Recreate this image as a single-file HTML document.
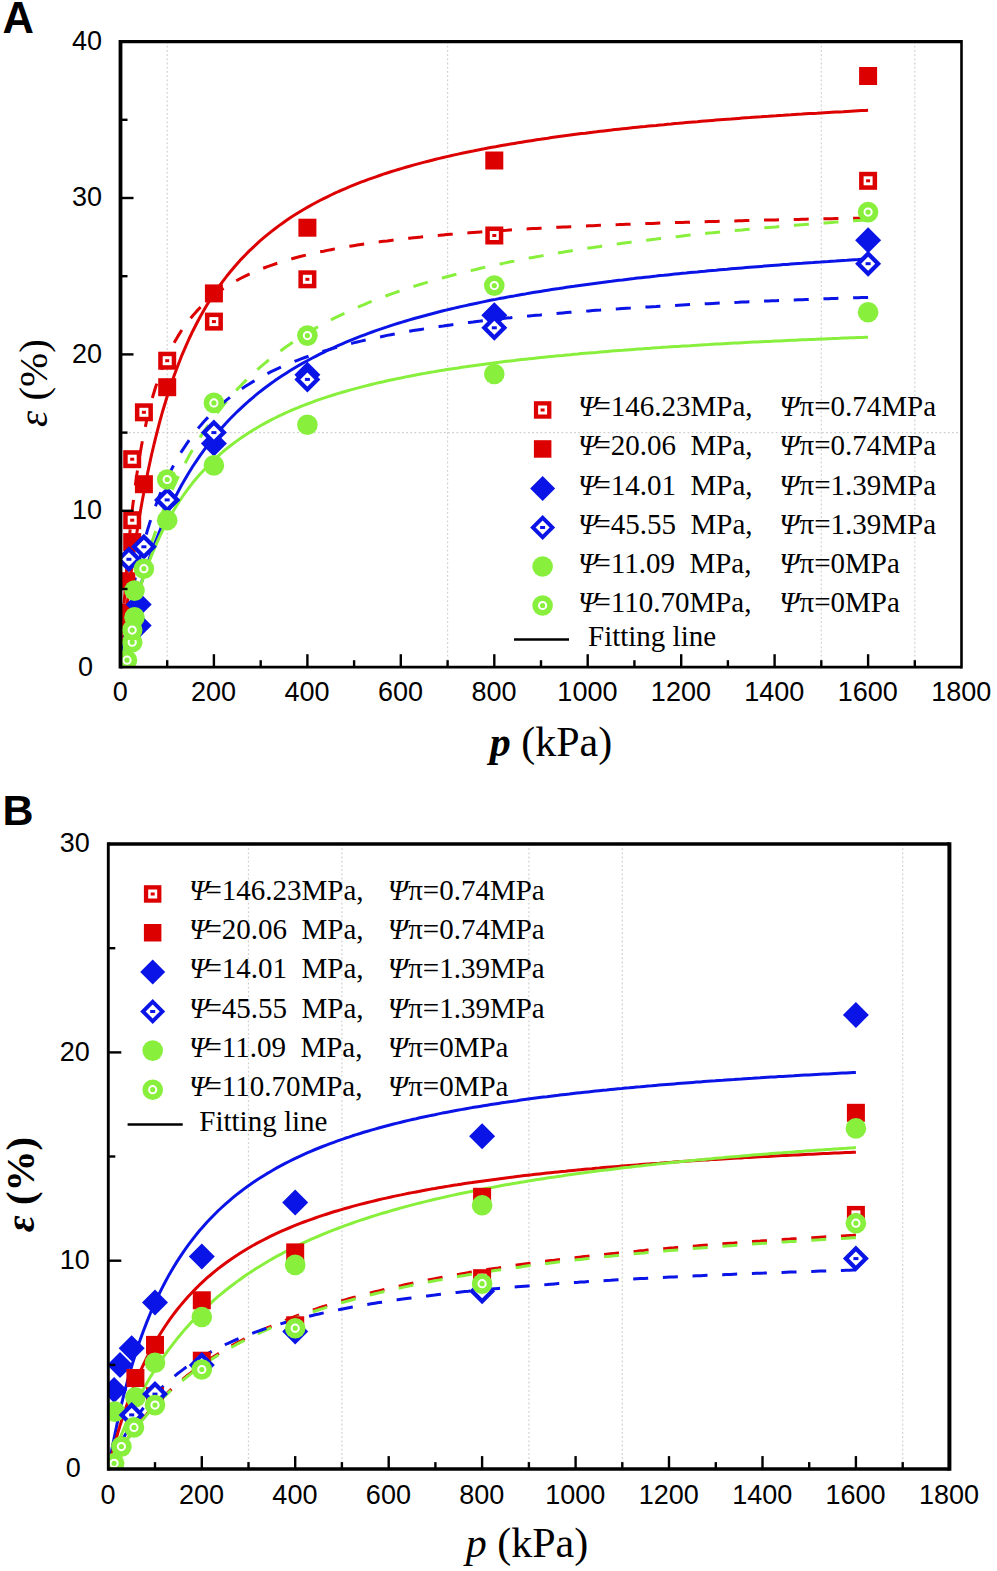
<!DOCTYPE html><html><head><meta charset="utf-8"><style>html,body{margin:0;padding:0;background:#fff;overflow:hidden}svg{display:block}</style></head><body>
<svg width="997" height="1571" viewBox="0 0 997 1571">
<rect width="997" height="1571" fill="#fff"/>
<text x="2.6" y="32.8" font-family="Liberation Sans, sans-serif" font-weight="bold" font-size="43.5">A</text>
<line x1="167.2" y1="41.6" x2="167.2" y2="667.2" stroke="#d0d0d0" stroke-width="1.2" stroke-dasharray="1.8 2.4"/>
<line x1="447.6" y1="41.6" x2="447.6" y2="667.2" stroke="#d0d0d0" stroke-width="1.2" stroke-dasharray="1.8 2.4"/>
<line x1="821.3" y1="41.6" x2="821.3" y2="667.2" stroke="#d0d0d0" stroke-width="1.2" stroke-dasharray="1.8 2.4"/>
<line x1="914.8" y1="41.6" x2="914.8" y2="667.2" stroke="#d0d0d0" stroke-width="1.2" stroke-dasharray="1.8 2.4"/>
<line x1="120.5" y1="432.6" x2="961.5" y2="432.6" stroke="#d0d0d0" stroke-width="1.2" stroke-dasharray="1.8 2.4"/>
<text x="120.2" y="701.3" font-size="27" text-anchor="middle" font-family="Liberation Sans, sans-serif" >0</text>
<text x="213.6" y="701.3" font-size="27" text-anchor="middle" font-family="Liberation Sans, sans-serif" >200</text>
<text x="307.1" y="701.3" font-size="27" text-anchor="middle" font-family="Liberation Sans, sans-serif" >400</text>
<text x="400.5" y="701.3" font-size="27" text-anchor="middle" font-family="Liberation Sans, sans-serif" >600</text>
<text x="494.0" y="701.3" font-size="27" text-anchor="middle" font-family="Liberation Sans, sans-serif" >800</text>
<text x="587.4" y="701.3" font-size="27" text-anchor="middle" font-family="Liberation Sans, sans-serif" >1000</text>
<text x="680.9" y="701.3" font-size="27" text-anchor="middle" font-family="Liberation Sans, sans-serif" >1200</text>
<text x="774.3" y="701.3" font-size="27" text-anchor="middle" font-family="Liberation Sans, sans-serif" >1400</text>
<text x="867.8" y="701.3" font-size="27" text-anchor="middle" font-family="Liberation Sans, sans-serif" >1600</text>
<text x="961.2" y="701.3" font-size="27" text-anchor="middle" font-family="Liberation Sans, sans-serif" >1800</text>
<text x="85.5" y="675.5" font-size="27" text-anchor="middle" font-family="Liberation Sans, sans-serif">0</text>
<text x="87.0" y="519.1" font-size="27" text-anchor="middle" font-family="Liberation Sans, sans-serif">10</text>
<text x="87.0" y="362.7" font-size="27" text-anchor="middle" font-family="Liberation Sans, sans-serif">20</text>
<text x="87.0" y="206.3" font-size="27" text-anchor="middle" font-family="Liberation Sans, sans-serif">30</text>
<text x="87.0" y="49.9" font-size="27" text-anchor="middle" font-family="Liberation Sans, sans-serif">40</text>
<clipPath id="cA"><rect x="120.5" y="41.6" width="841.0" height="625.6"/></clipPath>
<g clip-path="url(#cA)">
<polyline points="120.5,667.2 120.7,664.7 120.8,664.5 120.8,664.3 120.8,664.1 120.8,663.9 120.8,663.6 120.9,663.3 120.9,663.0 120.9,662.7 121.0,662.3 121.0,661.9 121.0,661.5 121.1,661.0 121.1,660.5 121.2,660.0 121.2,659.4 121.3,658.8 121.4,658.2 121.4,657.5 121.5,656.7 121.6,655.9 121.7,655.0 121.8,654.0 121.9,653.0 122.0,651.9 122.1,650.7 122.2,649.4 122.4,648.1 122.5,646.6 122.7,645.0 122.9,643.3 123.0,641.5 123.2,639.5 123.5,637.4 123.7,635.1 124.0,632.7 124.2,630.1 124.5,627.4 124.9,624.4 125.2,621.2 125.6,617.9 126.0,614.3 126.4,610.4 126.9,606.3 127.4,602.0 128.0,597.4 128.6,592.5 129.2,587.3 129.9,581.9 130.6,576.1 131.5,570.0 132.3,563.5 133.3,556.8 134.3,549.7 135.4,542.2 136.6,534.4 137.9,526.3 139.3,517.8 140.8,509.1 142.4,499.9 144.2,490.5 147.9,471.7 151.6,454.5 155.4,438.7 159.1,424.1 162.8,410.7 166.6,398.2 170.3,386.6 174.1,375.8 177.8,365.7 181.5,356.2 185.3,347.4 189.0,339.0 192.7,331.2 196.5,323.7 200.2,316.7 204.0,310.1 207.7,303.8 211.4,297.8 215.2,292.1 218.9,286.7 222.6,281.6 226.4,276.7 230.1,272.0 233.9,267.5 237.6,263.2 241.3,259.1 245.1,255.2 248.8,251.4 252.6,247.8 256.3,244.3 260.0,240.9 263.8,237.7 267.5,234.6 271.2,231.6 275.0,228.7 278.7,225.9 282.5,223.2 286.2,220.6 289.9,218.1 293.7,215.6 297.4,213.3 301.1,211.0 304.9,208.8 308.6,206.6 312.4,204.5 316.1,202.5 319.8,200.5 323.6,198.6 327.3,196.8 331.0,195.0 334.8,193.2 338.5,191.5 342.3,189.9 346.0,188.3 349.7,186.7 353.5,185.2 357.2,183.7 360.9,182.2 364.7,180.8 368.4,179.4 372.2,178.1 375.9,176.8 379.6,175.5 383.4,174.2 387.1,173.0 390.8,171.8 394.6,170.6 398.3,169.5 402.1,168.4 405.8,167.3 409.5,166.2 413.3,165.1 417.0,164.1 420.8,163.1 424.5,162.1 428.2,161.2 432.0,160.2 435.7,159.3 439.4,158.4 443.2,157.5 446.9,156.6 450.7,155.8 454.4,154.9 458.1,154.1 461.9,153.3 465.6,152.5 469.3,151.7 473.1,151.0 476.8,150.2 480.6,149.5 484.3,148.8 488.0,148.0 491.8,147.3 495.5,146.7 499.2,146.0 503.0,145.3 506.7,144.7 510.5,144.0 514.2,143.4 517.9,142.8 521.7,142.2 525.4,141.6 529.1,141.0 532.9,140.4 536.6,139.8 540.4,139.3 544.1,138.7 547.8,138.2 551.6,137.6 555.3,137.1 559.0,136.6 562.8,136.1 566.5,135.6 570.3,135.1 574.0,134.6 577.7,134.1 581.5,133.6 585.2,133.2 589.0,132.7 592.7,132.2 596.4,131.8 600.2,131.3 603.9,130.9 607.6,130.5 611.4,130.1 615.1,129.6 618.9,129.2 622.6,128.8 626.3,128.4 630.1,128.0 633.8,127.6 637.5,127.2 641.3,126.8 645.0,126.5 648.8,126.1 652.5,125.7 656.2,125.4 660.0,125.0 663.7,124.7 667.4,124.3 671.2,124.0 674.9,123.6 678.7,123.3 682.4,122.9 686.1,122.6 689.9,122.3 693.6,122.0 697.3,121.7 701.1,121.3 704.8,121.0 708.6,120.7 712.3,120.4 716.0,120.1 719.8,119.8 723.5,119.5 727.2,119.2 731.0,119.0 734.7,118.7 738.5,118.4 742.2,118.1 745.9,117.8 749.7,117.6 753.4,117.3 757.2,117.0 760.9,116.8 764.6,116.5 768.4,116.3 772.1,116.0 775.8,115.8 779.6,115.5 783.3,115.3 787.1,115.0 790.8,114.8 794.5,114.5 798.3,114.3 802.0,114.1 805.7,113.8 809.5,113.6 813.2,113.4 817.0,113.2 820.7,112.9 824.4,112.7 828.2,112.5 831.9,112.3 835.6,112.1 839.4,111.9 843.1,111.7 846.9,111.4 850.6,111.2 854.3,111.0 858.1,110.8 861.8,110.6 865.5,110.4 868.1,110.3" fill="none" stroke="#dc0000" stroke-width="3" stroke-linejoin="round"/>
<polyline points="868.1,218.0 865.5,218.1 861.8,218.1 858.1,218.2 854.3,218.3 850.6,218.3 846.9,218.4 843.1,218.5 839.4,218.5 835.6,218.6 831.9,218.7 828.2,218.8 824.4,218.8 820.7,218.9 817.0,219.0 813.2,219.1 809.5,219.1 805.7,219.2 802.0,219.3 798.3,219.4 794.5,219.5 790.8,219.5 787.1,219.6 783.3,219.7 779.6,219.8 775.8,219.9 772.1,220.0 768.4,220.1 764.6,220.1 760.9,220.2 757.2,220.3 753.4,220.4 749.7,220.5 745.9,220.6 742.2,220.7 738.5,220.8 734.7,220.9 731.0,221.0 727.2,221.1 723.5,221.2 719.8,221.3 716.0,221.4 712.3,221.5 708.6,221.6 704.8,221.7 701.1,221.8 697.3,221.9 693.6,222.0 689.9,222.2 686.1,222.3 682.4,222.4 678.7,222.5 674.9,222.6 671.2,222.7 667.4,222.9 663.7,223.0 660.0,223.1 656.2,223.2 652.5,223.4 648.8,223.5 645.0,223.6 641.3,223.8 637.5,223.9 633.8,224.0 630.1,224.2 626.3,224.3 622.6,224.4 618.9,224.6 615.1,224.7 611.4,224.9 607.6,225.0 603.9,225.2 600.2,225.3 596.4,225.5 592.7,225.7 589.0,225.8 585.2,226.0 581.5,226.2 577.7,226.3 574.0,226.5 570.3,226.7 566.5,226.9 562.8,227.0 559.0,227.2 555.3,227.4 551.6,227.6 547.8,227.8 544.1,228.0 540.4,228.2 536.6,228.4 532.9,228.6 529.1,228.8 525.4,229.0 521.7,229.2 517.9,229.5 514.2,229.7 510.5,229.9 506.7,230.2 503.0,230.4 499.2,230.6 495.5,230.9 491.8,231.1 488.0,231.4 484.3,231.7 480.6,231.9 476.8,232.2 473.1,232.5 469.3,232.8 465.6,233.1 461.9,233.4 458.1,233.7 454.4,234.0 450.7,234.3 446.9,234.6 443.2,234.9 439.4,235.3 435.7,235.6 432.0,236.0 428.2,236.3 424.5,236.7 420.8,237.1 417.0,237.4 413.3,237.8 409.5,238.2 405.8,238.6 402.1,239.1 398.3,239.5 394.6,239.9 390.8,240.4 387.1,240.9 383.4,241.3 379.6,241.8 375.9,242.3 372.2,242.9 368.4,243.4 364.7,243.9 360.9,244.5 357.2,245.1 353.5,245.7 349.7,246.3 346.0,246.9 342.3,247.6 338.5,248.2 334.8,248.9 331.0,249.7 327.3,250.4 323.6,251.2 319.8,251.9 316.1,252.8 312.4,253.6 308.6,254.5 304.9,255.4 301.1,256.3 297.4,257.3 293.7,258.3 289.9,259.4 286.2,260.5 282.5,261.6 278.7,262.8 275.0,264.0 271.2,265.3 267.5,266.6 263.8,268.0 260.0,269.5 256.3,271.0 252.6,272.7 248.8,274.3 245.1,276.1 241.3,278.0 237.6,280.0 233.9,282.0 230.1,284.2 226.4,286.6 222.6,289.0 218.9,291.6 215.2,294.4 211.4,297.4 207.7,300.5 204.0,303.9 200.2,307.5 196.5,311.4 192.7,315.7 189.0,320.2 185.3,325.2 181.5,330.5 177.8,336.4 174.1,342.9 170.3,350.0 166.6,357.9 162.8,366.7 159.1,376.6 155.4,387.7 151.6,400.4 147.9,415.0 144.2,431.9 142.4,440.9 140.8,449.7 139.3,458.6 137.9,467.4 136.6,476.1 135.4,484.6 134.3,493.1 133.3,501.4 132.3,509.5 131.5,517.4 130.6,525.0 129.9,532.5 129.2,539.7 128.6,546.7 128.0,553.5 127.4,559.9 126.9,566.1 126.4,572.1 126.0,577.8 125.6,583.2 125.2,588.4 124.9,593.3 124.5,597.9 124.2,602.3 124.0,606.5 123.7,610.5 123.5,614.2 123.2,617.7 123.0,621.0 122.9,624.1 122.7,627.0 122.5,629.7 122.4,632.3 122.2,634.7 122.1,637.0 122.0,639.1 121.9,641.0 121.8,642.9 121.7,644.6 121.6,646.2 121.5,647.7 121.4,649.1 121.4,650.4 121.3,651.6 121.2,652.7 121.2,653.7 121.1,654.7 121.1,655.6 121.0,656.4 121.0,657.2 121.0,657.9 120.9,658.6 120.9,659.2 120.9,659.8 120.8,660.4 120.8,660.9 120.8,661.3 120.8,661.8 120.8,662.2 120.7,662.5 120.5,667.2" fill="none" stroke="#dc0000" stroke-width="3" stroke-dasharray="15 14.7" stroke-linejoin="round"/>
<polyline points="868.1,219.9 865.5,220.0 861.8,220.3 858.1,220.5 854.3,220.8 850.6,221.1 846.9,221.3 843.1,221.6 839.4,221.9 835.6,222.1 831.9,222.4 828.2,222.7 824.4,223.0 820.7,223.3 817.0,223.5 813.2,223.8 809.5,224.1 805.7,224.4 802.0,224.7 798.3,225.0 794.5,225.3 790.8,225.6 787.1,225.9 783.3,226.2 779.6,226.5 775.8,226.9 772.1,227.2 768.4,227.5 764.6,227.8 760.9,228.2 757.2,228.5 753.4,228.8 749.7,229.2 745.9,229.5 742.2,229.9 738.5,230.2 734.7,230.6 731.0,230.9 727.2,231.3 723.5,231.6 719.8,232.0 716.0,232.4 712.3,232.8 708.6,233.1 704.8,233.5 701.1,233.9 697.3,234.3 693.6,234.7 689.9,235.1 686.1,235.5 682.4,235.9 678.7,236.4 674.9,236.8 671.2,237.2 667.4,237.6 663.7,238.1 660.0,238.5 656.2,239.0 652.5,239.4 648.8,239.9 645.0,240.3 641.3,240.8 637.5,241.3 633.8,241.8 630.1,242.3 626.3,242.7 622.6,243.2 618.9,243.8 615.1,244.3 611.4,244.8 607.6,245.3 603.9,245.8 600.2,246.4 596.4,246.9 592.7,247.5 589.0,248.0 585.2,248.6 581.5,249.2 577.7,249.8 574.0,250.4 570.3,251.0 566.5,251.6 562.8,252.2 559.0,252.8 555.3,253.4 551.6,254.1 547.8,254.7 544.1,255.4 540.4,256.1 536.6,256.8 532.9,257.4 529.1,258.1 525.4,258.9 521.7,259.6 517.9,260.3 514.2,261.1 510.5,261.8 506.7,262.6 503.0,263.4 499.2,264.1 495.5,265.0 491.8,265.8 488.0,266.6 484.3,267.4 480.6,268.3 476.8,269.2 473.1,270.1 469.3,271.0 465.6,271.9 461.9,272.8 458.1,273.8 454.4,274.7 450.7,275.7 446.9,276.7 443.2,277.7 439.4,278.8 435.7,279.8 432.0,280.9 428.2,282.0 424.5,283.1 420.8,284.2 417.0,285.4 413.3,286.6 409.5,287.8 405.8,289.0 402.1,290.3 398.3,291.5 394.6,292.8 390.8,294.2 387.1,295.5 383.4,296.9 379.6,298.3 375.9,299.8 372.2,301.2 368.4,302.7 364.7,304.3 360.9,305.9 357.2,307.5 353.5,309.1 349.7,310.8 346.0,312.5 342.3,314.3 338.5,316.1 334.8,317.9 331.0,319.8 327.3,321.8 323.6,323.8 319.8,325.8 316.1,327.9 312.4,330.1 308.6,332.3 304.9,334.5 301.1,336.8 297.4,339.2 293.7,341.7 289.9,344.2 286.2,346.8 282.5,349.5 278.7,352.2 275.0,355.1 271.2,358.0 267.5,361.0 263.8,364.1 260.0,367.3 256.3,370.6 252.6,374.0 248.8,377.6 245.1,381.2 241.3,385.0 237.6,388.9 233.9,393.0 230.1,397.2 226.4,401.5 222.6,406.0 218.9,410.7 215.2,415.6 211.4,420.7 207.7,426.0 204.0,431.5 200.2,437.2 196.5,443.2 192.7,449.5 189.0,456.0 185.3,462.9 181.5,470.1 177.8,477.6 174.1,485.5 170.3,493.8 166.6,502.6 162.8,511.8 159.1,521.6 155.4,531.9 151.6,542.8 147.9,554.4 144.2,566.7 142.4,572.8 140.8,578.6 139.3,584.0 137.9,589.2 136.6,594.2 135.4,598.9 134.3,603.3 133.3,607.5 132.3,611.4 131.5,615.1 130.6,618.6 129.9,621.9 129.2,624.9 128.6,627.8 128.0,630.5 127.4,633.1 126.9,635.4 126.4,637.6 126.0,639.7 125.6,641.6 125.2,643.5 124.9,645.1 124.5,646.7 124.2,648.2 124.0,649.5 123.7,650.8 123.5,652.0 123.2,653.1 123.0,654.1 122.9,655.0 122.7,655.9 122.5,656.7 122.4,657.5 122.2,658.2 122.1,658.9 122.0,659.5 121.9,660.0 121.8,660.6 121.7,661.0 121.6,661.5 121.5,661.9 121.4,662.3 121.4,662.7 121.3,663.0 121.2,663.3 121.2,663.6 121.1,663.9 121.1,664.1 121.0,664.3 121.0,664.5 121.0,664.7 120.9,664.9 120.9,665.1 120.9,665.2 120.8,665.4 120.8,665.5 120.8,665.6 120.8,665.8 120.8,665.9 120.7,666.0 120.5,667.2" fill="none" stroke="#88f03c" stroke-width="3" stroke-dasharray="15 14.7" stroke-linejoin="round"/>
<polyline points="120.5,667.2 120.7,666.0 120.8,666.0 120.8,665.9 120.8,665.8 120.8,665.6 120.8,665.5 120.9,665.4 120.9,665.2 120.9,665.1 121.0,664.9 121.0,664.7 121.0,664.5 121.1,664.3 121.1,664.1 121.2,663.8 121.2,663.6 121.3,663.3 121.4,663.0 121.4,662.6 121.5,662.3 121.6,661.9 121.7,661.5 121.8,661.0 121.9,660.5 122.0,660.0 122.1,659.4 122.2,658.8 122.4,658.2 122.5,657.5 122.7,656.7 122.9,655.9 123.0,655.0 123.2,654.1 123.5,653.0 123.7,651.9 124.0,650.8 124.2,649.5 124.5,648.1 124.9,646.7 125.2,645.1 125.6,643.4 126.0,641.6 126.4,639.7 126.9,637.7 127.4,635.5 128.0,633.1 128.6,630.6 129.2,627.9 129.9,625.1 130.6,622.0 131.5,618.8 132.3,615.4 133.3,611.7 134.3,607.9 135.4,603.8 136.6,599.4 137.9,594.9 139.3,590.1 140.8,585.0 142.4,579.7 144.2,574.1 147.9,562.7 151.6,552.1 155.4,542.0 159.1,532.5 162.8,523.6 166.6,515.1 170.3,507.1 174.1,499.4 177.8,492.2 181.5,485.3 185.3,478.7 189.0,472.5 192.7,466.5 196.5,460.8 200.2,455.3 204.0,450.1 207.7,445.0 211.4,440.2 215.2,435.6 218.9,431.2 222.6,426.9 226.4,422.8 230.1,418.8 233.9,415.0 237.6,411.3 241.3,407.8 245.1,404.3 248.8,401.0 252.6,397.8 256.3,394.7 260.0,391.7 263.8,388.8 267.5,386.0 271.2,383.3 275.0,380.6 278.7,378.1 282.5,375.6 286.2,373.2 289.9,370.8 293.7,368.5 297.4,366.3 301.1,364.1 304.9,362.0 308.6,360.0 312.4,358.0 316.1,356.1 319.8,354.2 323.6,352.3 327.3,350.5 331.0,348.8 334.8,347.1 338.5,345.4 342.3,343.8 346.0,342.2 349.7,340.6 353.5,339.1 357.2,337.6 360.9,336.2 364.7,334.8 368.4,333.4 372.2,332.0 375.9,330.7 379.6,329.4 383.4,328.1 387.1,326.9 390.8,325.6 394.6,324.4 398.3,323.3 402.1,322.1 405.8,321.0 409.5,319.9 413.3,318.8 417.0,317.7 420.8,316.7 424.5,315.7 428.2,314.7 432.0,313.7 435.7,312.7 439.4,311.8 443.2,310.8 446.9,309.9 450.7,309.0 454.4,308.1 458.1,307.3 461.9,306.4 465.6,305.6 469.3,304.8 473.1,304.0 476.8,303.2 480.6,302.4 484.3,301.6 488.0,300.8 491.8,300.1 495.5,299.4 499.2,298.6 503.0,297.9 506.7,297.2 510.5,296.5 514.2,295.9 517.9,295.2 521.7,294.5 525.4,293.9 529.1,293.2 532.9,292.6 536.6,292.0 540.4,291.4 544.1,290.8 547.8,290.2 551.6,289.6 555.3,289.0 559.0,288.5 562.8,287.9 566.5,287.3 570.3,286.8 574.0,286.3 577.7,285.7 581.5,285.2 585.2,284.7 589.0,284.2 592.7,283.7 596.4,283.2 600.2,282.7 603.9,282.2 607.6,281.7 611.4,281.3 615.1,280.8 618.9,280.3 622.6,279.9 626.3,279.4 630.1,279.0 633.8,278.6 637.5,278.1 641.3,277.7 645.0,277.3 648.8,276.9 652.5,276.5 656.2,276.1 660.0,275.6 663.7,275.3 667.4,274.9 671.2,274.5 674.9,274.1 678.7,273.7 682.4,273.3 686.1,273.0 689.9,272.6 693.6,272.2 697.3,271.9 701.1,271.5 704.8,271.2 708.6,270.8 712.3,270.5 716.0,270.2 719.8,269.8 723.5,269.5 727.2,269.2 731.0,268.8 734.7,268.5 738.5,268.2 742.2,267.9 745.9,267.6 749.7,267.3 753.4,267.0 757.2,266.7 760.9,266.4 764.6,266.1 768.4,265.8 772.1,265.5 775.8,265.2 779.6,264.9 783.3,264.6 787.1,264.4 790.8,264.1 794.5,263.8 798.3,263.5 802.0,263.3 805.7,263.0 809.5,262.7 813.2,262.5 817.0,262.2 820.7,262.0 824.4,261.7 828.2,261.5 831.9,261.2 835.6,261.0 839.4,260.7 843.1,260.5 846.9,260.3 850.6,260.0 854.3,259.8 858.1,259.6 861.8,259.3 865.5,259.1 868.1,258.9" fill="none" stroke="#0a14e6" stroke-width="3" stroke-linejoin="round"/>
<polyline points="868.1,297.4 865.5,297.5 861.8,297.6 858.1,297.7 854.3,297.8 850.6,298.0 846.9,298.1 843.1,298.2 839.4,298.3 835.6,298.5 831.9,298.6 828.2,298.7 824.4,298.8 820.7,299.0 817.0,299.1 813.2,299.2 809.5,299.4 805.7,299.5 802.0,299.7 798.3,299.8 794.5,299.9 790.8,300.1 787.1,300.2 783.3,300.4 779.6,300.5 775.8,300.7 772.1,300.8 768.4,301.0 764.6,301.1 760.9,301.3 757.2,301.4 753.4,301.6 749.7,301.8 745.9,301.9 742.2,302.1 738.5,302.3 734.7,302.4 731.0,302.6 727.2,302.8 723.5,302.9 719.8,303.1 716.0,303.3 712.3,303.5 708.6,303.7 704.8,303.8 701.1,304.0 697.3,304.2 693.6,304.4 689.9,304.6 686.1,304.8 682.4,305.0 678.7,305.2 674.9,305.4 671.2,305.6 667.4,305.8 663.7,306.0 660.0,306.2 656.2,306.5 652.5,306.7 648.8,306.9 645.0,307.1 641.3,307.4 637.5,307.6 633.8,307.8 630.1,308.1 626.3,308.3 622.6,308.5 618.9,308.8 615.1,309.0 611.4,309.3 607.6,309.5 603.9,309.8 600.2,310.1 596.4,310.3 592.7,310.6 589.0,310.9 585.2,311.2 581.5,311.4 577.7,311.7 574.0,312.0 570.3,312.3 566.5,312.6 562.8,312.9 559.0,313.2 555.3,313.6 551.6,313.9 547.8,314.2 544.1,314.5 540.4,314.9 536.6,315.2 532.9,315.6 529.1,315.9 525.4,316.3 521.7,316.6 517.9,317.0 514.2,317.4 510.5,317.8 506.7,318.1 503.0,318.5 499.2,318.9 495.5,319.4 491.8,319.8 488.0,320.2 484.3,320.6 480.6,321.1 476.8,321.5 473.1,322.0 469.3,322.4 465.6,322.9 461.9,323.4 458.1,323.9 454.4,324.4 450.7,324.9 446.9,325.4 443.2,326.0 439.4,326.5 435.7,327.0 432.0,327.6 428.2,328.2 424.5,328.8 420.8,329.4 417.0,330.0 413.3,330.6 409.5,331.3 405.8,331.9 402.1,332.6 398.3,333.3 394.6,334.0 390.8,334.7 387.1,335.4 383.4,336.2 379.6,337.0 375.9,337.7 372.2,338.6 368.4,339.4 364.7,340.2 360.9,341.1 357.2,342.0 353.5,342.9 349.7,343.9 346.0,344.8 342.3,345.8 338.5,346.8 334.8,347.9 331.0,349.0 327.3,350.1 323.6,351.2 319.8,352.4 316.1,353.6 312.4,354.9 308.6,356.2 304.9,357.5 301.1,358.9 297.4,360.3 293.7,361.8 289.9,363.3 286.2,364.9 282.5,366.5 278.7,368.2 275.0,369.9 271.2,371.7 267.5,373.6 263.8,375.6 260.0,377.6 256.3,379.7 252.6,381.9 248.8,384.2 245.1,386.6 241.3,389.1 237.6,391.7 233.9,394.4 230.1,397.2 226.4,400.2 222.6,403.4 218.9,406.6 215.2,410.1 211.4,413.7 207.7,417.6 204.0,421.6 200.2,425.9 196.5,430.4 192.7,435.2 189.0,440.3 185.3,445.8 181.5,451.6 177.8,457.8 174.1,464.4 170.3,471.6 166.6,479.2 162.8,487.6 159.1,496.6 155.4,506.4 151.6,517.0 147.9,528.7 144.2,541.6 142.4,548.1 140.8,554.4 139.3,560.5 137.9,566.4 136.6,572.1 135.4,577.5 134.3,582.7 133.3,587.7 132.3,592.5 131.5,597.1 130.6,601.4 129.9,605.5 129.2,609.4 128.6,613.1 128.0,616.6 127.4,619.9 126.9,623.0 126.4,625.9 126.0,628.7 125.6,631.3 125.2,633.7 124.9,636.0 124.5,638.2 124.2,640.2 124.0,642.0 123.7,643.8 123.5,645.4 123.2,647.0 123.0,648.4 122.9,649.7 122.7,651.0 122.5,652.1 122.4,653.2 122.2,654.2 122.1,655.1 122.0,656.0 121.9,656.8 121.8,657.6 121.7,658.3 121.6,658.9 121.5,659.5 121.4,660.1 121.4,660.6 121.3,661.1 121.2,661.5 121.2,661.9 121.1,662.3 121.1,662.7 121.0,663.0 121.0,663.3 121.0,663.6 120.9,663.9 120.9,664.1 120.9,664.3 120.8,664.5 120.8,664.7 120.8,664.9 120.8,665.1 120.8,665.2 120.7,665.4 120.5,667.2" fill="none" stroke="#0a14e6" stroke-width="3" stroke-dasharray="15 14.7" stroke-linejoin="round"/>
<polyline points="120.5,667.2 120.7,666.0 120.8,665.9 120.8,665.8 120.8,665.7 120.8,665.5 120.8,665.4 120.9,665.3 120.9,665.1 120.9,665.0 121.0,664.8 121.0,664.6 121.0,664.4 121.1,664.2 121.1,663.9 121.2,663.7 121.2,663.4 121.3,663.1 121.4,662.7 121.4,662.4 121.5,662.0 121.6,661.6 121.7,661.2 121.8,660.7 121.9,660.2 122.0,659.6 122.1,659.0 122.2,658.4 122.4,657.7 122.5,657.0 122.7,656.2 122.9,655.3 123.0,654.4 123.2,653.4 123.5,652.4 123.7,651.2 124.0,650.0 124.2,648.7 124.5,647.3 124.9,645.8 125.2,644.2 125.6,642.5 126.0,640.7 126.4,638.7 126.9,636.6 127.4,634.4 128.0,632.0 128.6,629.5 129.2,626.8 129.9,624.0 130.6,621.0 131.5,617.8 132.3,614.4 133.3,610.9 134.3,607.1 135.4,603.2 136.6,599.0 137.9,594.6 139.3,590.1 140.8,585.3 142.4,580.3 144.2,575.2 147.9,564.8 151.6,555.1 155.4,546.2 159.1,537.9 162.8,530.1 166.6,522.9 170.3,516.1 174.1,509.7 177.8,503.7 181.5,498.0 185.3,492.7 189.0,487.6 192.7,482.8 196.5,478.3 200.2,474.0 204.0,469.9 207.7,466.0 211.4,462.2 215.2,458.7 218.9,455.3 222.6,452.0 226.4,448.9 230.1,446.0 233.9,443.1 237.6,440.4 241.3,437.7 245.1,435.2 248.8,432.8 252.6,430.4 256.3,428.2 260.0,426.0 263.8,423.9 267.5,421.9 271.2,419.9 275.0,418.0 278.7,416.2 282.5,414.4 286.2,412.7 289.9,411.0 293.7,409.4 297.4,407.9 301.1,406.3 304.9,404.9 308.6,403.5 312.4,402.1 316.1,400.7 319.8,399.4 323.6,398.1 327.3,396.9 331.0,395.7 334.8,394.5 338.5,393.4 342.3,392.3 346.0,391.2 349.7,390.1 353.5,389.1 357.2,388.1 360.9,387.1 364.7,386.1 368.4,385.2 372.2,384.3 375.9,383.4 379.6,382.5 383.4,381.7 387.1,380.8 390.8,380.0 394.6,379.2 398.3,378.4 402.1,377.7 405.8,376.9 409.5,376.2 413.3,375.5 417.0,374.8 420.8,374.1 424.5,373.4 428.2,372.7 432.0,372.1 435.7,371.4 439.4,370.8 443.2,370.2 446.9,369.6 450.7,369.0 454.4,368.4 458.1,367.9 461.9,367.3 465.6,366.8 469.3,366.2 473.1,365.7 476.8,365.2 480.6,364.7 484.3,364.2 488.0,363.7 491.8,363.2 495.5,362.7 499.2,362.3 503.0,361.8 506.7,361.3 510.5,360.9 514.2,360.5 517.9,360.0 521.7,359.6 525.4,359.2 529.1,358.8 532.9,358.4 536.6,358.0 540.4,357.6 544.1,357.2 547.8,356.8 551.6,356.4 555.3,356.1 559.0,355.7 562.8,355.4 566.5,355.0 570.3,354.7 574.0,354.3 577.7,354.0 581.5,353.6 585.2,353.3 589.0,353.0 592.7,352.7 596.4,352.4 600.2,352.0 603.9,351.7 607.6,351.4 611.4,351.1 615.1,350.8 618.9,350.5 622.6,350.3 626.3,350.0 630.1,349.7 633.8,349.4 637.5,349.1 641.3,348.9 645.0,348.6 648.8,348.4 652.5,348.1 656.2,347.8 660.0,347.6 663.7,347.3 667.4,347.1 671.2,346.8 674.9,346.6 678.7,346.4 682.4,346.1 686.1,345.9 689.9,345.7 693.6,345.4 697.3,345.2 701.1,345.0 704.8,344.8 708.6,344.6 712.3,344.3 716.0,344.1 719.8,343.9 723.5,343.7 727.2,343.5 731.0,343.3 734.7,343.1 738.5,342.9 742.2,342.7 745.9,342.5 749.7,342.3 753.4,342.1 757.2,342.0 760.9,341.8 764.6,341.6 768.4,341.4 772.1,341.2 775.8,341.0 779.6,340.9 783.3,340.7 787.1,340.5 790.8,340.3 794.5,340.2 798.3,340.0 802.0,339.8 805.7,339.7 809.5,339.5 813.2,339.4 817.0,339.2 820.7,339.0 824.4,338.9 828.2,338.7 831.9,338.6 835.6,338.4 839.4,338.3 843.1,338.1 846.9,338.0 850.6,337.8 854.3,337.7 858.1,337.5 861.8,337.4 865.5,337.3 868.1,337.2" fill="none" stroke="#88f03c" stroke-width="3" stroke-linejoin="round"/>
<rect x="114.3" y="603.5" width="18" height="18" fill="#dc0000"/>
<rect x="117.3" y="572.2" width="18" height="18" fill="#dc0000"/>
<rect x="123.2" y="533.1" width="18" height="18" fill="#dc0000"/>
<rect x="134.9" y="475.2" width="18" height="18" fill="#dc0000"/>
<rect x="158.2" y="378.2" width="18" height="18" fill="#dc0000"/>
<rect x="204.9" y="284.4" width="18" height="18" fill="#dc0000"/>
<rect x="298.4" y="218.7" width="18" height="18" fill="#dc0000"/>
<rect x="485.3" y="151.5" width="18" height="18" fill="#dc0000"/>
<rect x="859.1" y="67.0" width="18" height="18" fill="#dc0000"/>
<rect x="123.2" y="450.2" width="18" height="18" fill="#dc0000"/>
<rect x="127.7" y="454.7" width="9" height="9" fill="#fff"/>
<rect x="130.2" y="457.7" width="4" height="3" fill="#dc0000"/>
<rect x="123.2" y="511.2" width="18" height="18" fill="#dc0000"/>
<rect x="127.7" y="515.7" width="9" height="9" fill="#fff"/>
<rect x="130.2" y="518.7" width="4" height="3" fill="#dc0000"/>
<rect x="134.9" y="403.3" width="18" height="18" fill="#dc0000"/>
<rect x="139.4" y="407.8" width="9" height="9" fill="#fff"/>
<rect x="141.9" y="410.8" width="4" height="3" fill="#dc0000"/>
<rect x="158.2" y="351.7" width="18" height="18" fill="#dc0000"/>
<rect x="162.7" y="356.2" width="9" height="9" fill="#fff"/>
<rect x="165.2" y="359.2" width="4" height="3" fill="#dc0000"/>
<rect x="204.9" y="312.6" width="18" height="18" fill="#dc0000"/>
<rect x="209.4" y="317.1" width="9" height="9" fill="#fff"/>
<rect x="211.9" y="320.1" width="4" height="3" fill="#dc0000"/>
<rect x="298.4" y="270.3" width="18" height="18" fill="#dc0000"/>
<rect x="302.9" y="274.8" width="9" height="9" fill="#fff"/>
<rect x="305.4" y="277.8" width="4" height="3" fill="#dc0000"/>
<rect x="485.3" y="226.5" width="18" height="18" fill="#dc0000"/>
<rect x="489.8" y="231.0" width="9" height="9" fill="#fff"/>
<rect x="492.3" y="234.0" width="4" height="3" fill="#dc0000"/>
<rect x="859.1" y="171.8" width="18" height="18" fill="#dc0000"/>
<rect x="863.6" y="176.3" width="9" height="9" fill="#fff"/>
<rect x="866.1" y="179.3" width="4" height="3" fill="#dc0000"/>
<polygon points="138.7,591.6 151.7,604.6 138.7,617.6 125.7,604.6" fill="#0a14e6"/>
<polygon points="138.7,612.6 151.7,625.6 138.7,638.6 125.7,625.6" fill="#0a14e6"/>
<polygon points="167.2,486.9 180.2,499.9 167.2,512.9 154.2,499.9" fill="#0a14e6"/>
<polygon points="213.9,430.5 226.9,443.5 213.9,456.5 200.9,443.5" fill="#0a14e6"/>
<polygon points="307.4,361.7 320.4,374.7 307.4,387.7 294.4,374.7" fill="#0a14e6"/>
<polygon points="494.3,302.3 507.3,315.3 494.3,328.3 481.3,315.3" fill="#0a14e6"/>
<polygon points="868.1,227.2 881.1,240.2 868.1,253.2 855.1,240.2" fill="#0a14e6"/>
<polygon points="128.9,546.3 141.9,559.3 128.9,572.3 115.9,559.3" fill="#0a14e6"/>
<polygon points="128.9,552.3 135.9,559.3 128.9,566.3 121.9,559.3" fill="#fff"/>
<rect x="126.4" y="557.8" width="5" height="3" fill="#0a14e6"/>
<polygon points="143.9,533.8 156.9,546.8 143.9,559.8 130.9,546.8" fill="#0a14e6"/>
<polygon points="143.9,539.8 150.9,546.8 143.9,553.8 136.9,546.8" fill="#fff"/>
<rect x="141.4" y="545.3" width="5" height="3" fill="#0a14e6"/>
<polygon points="167.2,486.9 180.2,499.9 167.2,512.9 154.2,499.9" fill="#0a14e6"/>
<polygon points="167.2,492.9 174.2,499.9 167.2,506.9 160.2,499.9" fill="#fff"/>
<rect x="164.7" y="498.4" width="5" height="3" fill="#0a14e6"/>
<polygon points="213.9,419.6 226.9,432.6 213.9,445.6 200.9,432.6" fill="#0a14e6"/>
<polygon points="213.9,425.6 220.9,432.6 213.9,439.6 206.9,432.6" fill="#fff"/>
<rect x="211.4" y="431.1" width="5" height="3" fill="#0a14e6"/>
<polygon points="307.4,366.4 320.4,379.4 307.4,392.4 294.4,379.4" fill="#0a14e6"/>
<polygon points="307.4,372.4 314.4,379.4 307.4,386.4 300.4,379.4" fill="#fff"/>
<rect x="304.9" y="377.9" width="5" height="3" fill="#0a14e6"/>
<polygon points="494.3,314.8 507.3,327.8 494.3,340.8 481.3,327.8" fill="#0a14e6"/>
<polygon points="494.3,320.8 501.3,327.8 494.3,334.8 487.3,327.8" fill="#fff"/>
<rect x="491.8" y="326.3" width="5" height="3" fill="#0a14e6"/>
<polygon points="868.1,250.7 881.1,263.7 868.1,276.7 855.1,263.7" fill="#0a14e6"/>
<polygon points="868.1,256.7 875.1,263.7 868.1,270.7 861.1,263.7" fill="#fff"/>
<rect x="865.6" y="262.2" width="5" height="3" fill="#0a14e6"/>
<circle cx="134.5" cy="590.6" r="10.3" fill="#88f03c"/>
<circle cx="134.5" cy="617.2" r="10.3" fill="#88f03c"/>
<circle cx="167.2" cy="520.2" r="10.3" fill="#88f03c"/>
<circle cx="213.9" cy="465.4" r="10.3" fill="#88f03c"/>
<circle cx="307.4" cy="424.8" r="10.3" fill="#88f03c"/>
<circle cx="494.3" cy="374.0" r="10.3" fill="#88f03c"/>
<circle cx="868.1" cy="312.2" r="10.3" fill="#88f03c"/>
<circle cx="127.0" cy="660.2" r="10.3" fill="#88f03c"/>
<circle cx="127.0" cy="660.2" r="3.6" fill="none" stroke="#fff" stroke-width="2"/>
<circle cx="132.2" cy="642.2" r="10.3" fill="#88f03c"/>
<circle cx="132.2" cy="642.2" r="3.6" fill="none" stroke="#fff" stroke-width="2"/>
<circle cx="132.2" cy="630.1" r="10.3" fill="#88f03c"/>
<circle cx="132.2" cy="630.1" r="3.6" fill="none" stroke="#fff" stroke-width="2"/>
<circle cx="143.9" cy="568.7" r="10.3" fill="#88f03c"/>
<circle cx="143.9" cy="568.7" r="3.6" fill="none" stroke="#fff" stroke-width="2"/>
<circle cx="167.2" cy="479.5" r="10.3" fill="#88f03c"/>
<circle cx="167.2" cy="479.5" r="3.6" fill="none" stroke="#fff" stroke-width="2"/>
<circle cx="213.9" cy="402.9" r="10.3" fill="#88f03c"/>
<circle cx="213.9" cy="402.9" r="3.6" fill="none" stroke="#fff" stroke-width="2"/>
<circle cx="307.4" cy="335.6" r="10.3" fill="#88f03c"/>
<circle cx="307.4" cy="335.6" r="3.6" fill="none" stroke="#fff" stroke-width="2"/>
<circle cx="494.3" cy="285.6" r="10.3" fill="#88f03c"/>
<circle cx="494.3" cy="285.6" r="3.6" fill="none" stroke="#fff" stroke-width="2"/>
<circle cx="868.1" cy="212.1" r="10.3" fill="#88f03c"/>
<circle cx="868.1" cy="212.1" r="3.6" fill="none" stroke="#fff" stroke-width="2"/>
</g>
<line x1="120.5" y1="40.0" x2="120.5" y2="668.6" stroke="#000" stroke-width="3.8"/>
<line x1="961.5" y1="40.0" x2="961.5" y2="668.6" stroke="#000" stroke-width="2.6"/>
<line x1="120.5" y1="41.6" x2="961.5" y2="41.6" stroke="#000" stroke-width="3.3"/>
<line x1="120.5" y1="667.2" x2="961.5" y2="667.2" stroke="#000" stroke-width="2.8"/>
<line x1="167.2" y1="667.2" x2="167.2" y2="660.2" stroke="#000" stroke-width="2.4"/>
<line x1="213.9" y1="667.2" x2="213.9" y2="654.2" stroke="#000" stroke-width="2.4"/>
<line x1="260.7" y1="667.2" x2="260.7" y2="660.2" stroke="#000" stroke-width="2.4"/>
<line x1="307.4" y1="667.2" x2="307.4" y2="654.2" stroke="#000" stroke-width="2.4"/>
<line x1="354.1" y1="667.2" x2="354.1" y2="660.2" stroke="#000" stroke-width="2.4"/>
<line x1="400.8" y1="667.2" x2="400.8" y2="654.2" stroke="#000" stroke-width="2.4"/>
<line x1="447.6" y1="667.2" x2="447.6" y2="660.2" stroke="#000" stroke-width="2.4"/>
<line x1="494.3" y1="667.2" x2="494.3" y2="654.2" stroke="#000" stroke-width="2.4"/>
<line x1="541.0" y1="667.2" x2="541.0" y2="660.2" stroke="#000" stroke-width="2.4"/>
<line x1="587.7" y1="667.2" x2="587.7" y2="654.2" stroke="#000" stroke-width="2.4"/>
<line x1="634.4" y1="667.2" x2="634.4" y2="660.2" stroke="#000" stroke-width="2.4"/>
<line x1="681.2" y1="667.2" x2="681.2" y2="654.2" stroke="#000" stroke-width="2.4"/>
<line x1="727.9" y1="667.2" x2="727.9" y2="660.2" stroke="#000" stroke-width="2.4"/>
<line x1="774.6" y1="667.2" x2="774.6" y2="654.2" stroke="#000" stroke-width="2.4"/>
<line x1="821.3" y1="667.2" x2="821.3" y2="660.2" stroke="#000" stroke-width="2.4"/>
<line x1="868.1" y1="667.2" x2="868.1" y2="654.2" stroke="#000" stroke-width="2.4"/>
<line x1="914.8" y1="667.2" x2="914.8" y2="660.2" stroke="#000" stroke-width="2.4"/>
<line x1="120.5" y1="589.0" x2="127.5" y2="589.0" stroke="#000" stroke-width="2.4"/>
<line x1="120.5" y1="510.8" x2="133.5" y2="510.8" stroke="#000" stroke-width="2.4"/>
<line x1="120.5" y1="432.6" x2="127.5" y2="432.6" stroke="#000" stroke-width="2.4"/>
<line x1="120.5" y1="354.4" x2="133.5" y2="354.4" stroke="#000" stroke-width="2.4"/>
<line x1="120.5" y1="276.2" x2="127.5" y2="276.2" stroke="#000" stroke-width="2.4"/>
<line x1="120.5" y1="198.0" x2="133.5" y2="198.0" stroke="#000" stroke-width="2.4"/>
<line x1="120.5" y1="119.8" x2="127.5" y2="119.8" stroke="#000" stroke-width="2.4"/>
<rect x="533.9" y="401.2" width="17.5" height="17.5" fill="#dc0000"/>
<rect x="538.1" y="405.5" width="9" height="9" fill="#fff"/>
<rect x="540.6" y="408.5" width="4" height="3" fill="#dc0000"/>
<text x="578.0" y="416.3" font-family="Liberation Serif, serif" font-size="29" xml:space="preserve"><tspan font-style="italic">Ψ</tspan><tspan dx="-4">=</tspan>146.23MPa,</text>
<text x="779.2" y="416.3" font-family="Liberation Serif, serif" font-size="29" xml:space="preserve"><tspan font-style="italic">Ψ</tspan>π=0.74MPa</text>
<rect x="533.9" y="440.2" width="17.5" height="17.5" fill="#dc0000"/>
<text x="578.0" y="455.3" font-family="Liberation Serif, serif" font-size="29" xml:space="preserve"><tspan font-style="italic">Ψ</tspan><tspan dx="-4">=</tspan>20.06  MPa,</text>
<text x="779.2" y="455.3" font-family="Liberation Serif, serif" font-size="29" xml:space="preserve"><tspan font-style="italic">Ψ</tspan>π=0.74MPa</text>
<polygon points="542.6,476.0 555.1,488.5 542.6,501.0 530.1,488.5" fill="#0a14e6"/>
<text x="578.0" y="494.8" font-family="Liberation Serif, serif" font-size="29" xml:space="preserve"><tspan font-style="italic">Ψ</tspan><tspan dx="-4">=</tspan>14.01  MPa,</text>
<text x="779.2" y="494.8" font-family="Liberation Serif, serif" font-size="29" xml:space="preserve"><tspan font-style="italic">Ψ</tspan>π=1.39MPa</text>
<polygon points="542.6,515.0 555.1,527.5 542.6,540.0 530.1,527.5" fill="#0a14e6"/>
<polygon points="542.6,520.5 549.6,527.5 542.6,534.5 535.6,527.5" fill="#fff"/>
<rect x="540.1" y="526.0" width="5" height="3" fill="#0a14e6"/>
<text x="578.0" y="533.8" font-family="Liberation Serif, serif" font-size="29" xml:space="preserve"><tspan font-style="italic">Ψ</tspan><tspan dx="-4">=</tspan>45.55  MPa,</text>
<text x="779.2" y="533.8" font-family="Liberation Serif, serif" font-size="29" xml:space="preserve"><tspan font-style="italic">Ψ</tspan>π=1.39MPa</text>
<circle cx="542.6" cy="566.5" r="10.3" fill="#88f03c"/>
<text x="578.0" y="572.8" font-family="Liberation Serif, serif" font-size="29" xml:space="preserve"><tspan font-style="italic">Ψ</tspan><tspan dx="-4">=</tspan>11.09  MPa,</text>
<text x="779.2" y="572.8" font-family="Liberation Serif, serif" font-size="29" xml:space="preserve"><tspan font-style="italic">Ψ</tspan>π=0MPa</text>
<circle cx="542.6" cy="605.5" r="10.3" fill="#88f03c"/>
<circle cx="542.6" cy="605.5" r="3.6" fill="none" stroke="#fff" stroke-width="2"/>
<text x="578.0" y="611.8" font-family="Liberation Serif, serif" font-size="29" xml:space="preserve"><tspan font-style="italic">Ψ</tspan><tspan dx="-4">=</tspan>110.70MPa,</text>
<text x="779.2" y="611.8" font-family="Liberation Serif, serif" font-size="29" xml:space="preserve"><tspan font-style="italic">Ψ</tspan>π=0MPa</text>
<line x1="514.0" y1="639.5" x2="569.0" y2="639.5" stroke="#000" stroke-width="2.5"/>
<text x="588.0" y="646.3" font-family="Liberation Serif, serif" font-size="29">Fitting line</text>
<text x="551" y="756" font-family="Liberation Serif, serif" font-size="42" text-anchor="middle"><tspan font-weight="bold" font-style="italic">p</tspan> (kPa)</text>
<text transform="translate(46.5,383) rotate(-90)" font-family="Liberation Serif, serif" font-size="41" text-anchor="middle"><tspan font-style="italic">ε</tspan> (%)</text>
<text x="2.6" y="824.8" font-family="Liberation Sans, sans-serif" font-weight="bold" font-size="43">B</text>
<line x1="248.5" y1="844.0" x2="248.5" y2="1469.1" stroke="#d0d0d0" stroke-width="1.2" stroke-dasharray="1.8 2.4"/>
<line x1="341.9" y1="844.0" x2="341.9" y2="1469.1" stroke="#d0d0d0" stroke-width="1.2" stroke-dasharray="1.8 2.4"/>
<line x1="528.9" y1="844.0" x2="528.9" y2="1469.1" stroke="#d0d0d0" stroke-width="1.2" stroke-dasharray="1.8 2.4"/>
<line x1="622.3" y1="844.0" x2="622.3" y2="1469.1" stroke="#d0d0d0" stroke-width="1.2" stroke-dasharray="1.8 2.4"/>
<line x1="902.7" y1="844.0" x2="902.7" y2="1469.1" stroke="#d0d0d0" stroke-width="1.2" stroke-dasharray="1.8 2.4"/>
<text x="108.0" y="1503.5" font-size="27" text-anchor="middle" font-family="Liberation Sans, sans-serif" >0</text>
<text x="201.5" y="1503.5" font-size="27" text-anchor="middle" font-family="Liberation Sans, sans-serif" >200</text>
<text x="294.9" y="1503.5" font-size="27" text-anchor="middle" font-family="Liberation Sans, sans-serif" >400</text>
<text x="388.4" y="1503.5" font-size="27" text-anchor="middle" font-family="Liberation Sans, sans-serif" >600</text>
<text x="481.8" y="1503.5" font-size="27" text-anchor="middle" font-family="Liberation Sans, sans-serif" >800</text>
<text x="575.3" y="1503.5" font-size="27" text-anchor="middle" font-family="Liberation Sans, sans-serif" >1000</text>
<text x="668.7" y="1503.5" font-size="27" text-anchor="middle" font-family="Liberation Sans, sans-serif" >1200</text>
<text x="762.2" y="1503.5" font-size="27" text-anchor="middle" font-family="Liberation Sans, sans-serif" >1400</text>
<text x="855.6" y="1503.5" font-size="27" text-anchor="middle" font-family="Liberation Sans, sans-serif" >1600</text>
<text x="949.1" y="1503.5" font-size="27" text-anchor="middle" font-family="Liberation Sans, sans-serif" >1800</text>
<text x="73.3" y="1477.4" font-size="27" text-anchor="middle" font-family="Liberation Sans, sans-serif">0</text>
<text x="74.8" y="1269.0" font-size="27" text-anchor="middle" font-family="Liberation Sans, sans-serif">10</text>
<text x="74.8" y="1060.7" font-size="27" text-anchor="middle" font-family="Liberation Sans, sans-serif">20</text>
<text x="74.8" y="852.3" font-size="27" text-anchor="middle" font-family="Liberation Sans, sans-serif">30</text>
<clipPath id="cB"><rect x="108.3" y="844.0" width="841.1" height="625.1"/></clipPath>
<g clip-path="url(#cB)">
<polyline points="108.3,1469.1 108.5,1467.8 108.6,1467.7 108.6,1467.5 108.6,1467.4 108.6,1467.3 108.6,1467.1 108.7,1467.0 108.7,1466.8 108.7,1466.6 108.8,1466.4 108.8,1466.2 108.8,1466.0 108.9,1465.7 108.9,1465.5 109.0,1465.2 109.0,1464.9 109.1,1464.5 109.2,1464.2 109.2,1463.8 109.3,1463.4 109.4,1462.9 109.5,1462.4 109.6,1461.9 109.7,1461.4 109.8,1460.7 109.9,1460.1 110.0,1459.4 110.2,1458.6 110.3,1457.8 110.5,1456.9 110.7,1456.0 110.8,1455.0 111.0,1453.9 111.3,1452.7 111.5,1451.4 111.8,1450.1 112.0,1448.6 112.3,1447.1 112.7,1445.4 113.0,1443.6 113.4,1441.7 113.8,1439.7 114.2,1437.5 114.7,1435.2 115.2,1432.7 115.8,1430.0 116.4,1427.2 117.0,1424.2 117.7,1421.0 118.4,1417.6 119.3,1414.0 120.1,1410.2 121.1,1406.2 122.1,1401.9 123.2,1397.4 124.4,1392.7 125.7,1387.7 127.1,1382.5 128.6,1377.0 130.2,1371.3 132.0,1365.4 135.7,1353.3 139.4,1342.1 143.2,1331.6 146.9,1321.9 150.6,1312.7 154.4,1304.1 158.1,1296.0 161.9,1288.4 165.6,1281.2 169.3,1274.4 173.1,1268.0 176.8,1261.9 180.6,1256.1 184.3,1250.6 188.0,1245.4 191.8,1240.4 195.5,1235.6 199.2,1231.0 203.0,1226.7 206.7,1222.5 210.5,1218.5 214.2,1214.7 217.9,1211.0 221.7,1207.5 225.4,1204.1 229.2,1200.8 232.9,1197.7 236.6,1194.6 240.4,1191.7 244.1,1188.9 247.8,1186.2 251.6,1183.6 255.3,1181.0 259.1,1178.6 262.8,1176.2 266.5,1173.9 270.3,1171.7 274.0,1169.5 277.7,1167.4 281.5,1165.4 285.2,1163.4 289.0,1161.5 292.7,1159.7 296.4,1157.9 300.2,1156.1 303.9,1154.4 307.7,1152.7 311.4,1151.1 315.1,1149.5 318.9,1148.0 322.6,1146.5 326.3,1145.1 330.1,1143.6 333.8,1142.3 337.6,1140.9 341.3,1139.6 345.0,1138.3 348.8,1137.1 352.5,1135.8 356.3,1134.6 360.0,1133.5 363.7,1132.3 367.5,1131.2 371.2,1130.1 374.9,1129.1 378.7,1128.0 382.4,1127.0 386.2,1126.0 389.9,1125.0 393.6,1124.0 397.4,1123.1 401.1,1122.2 404.8,1121.3 408.6,1120.4 412.3,1119.5 416.1,1118.7 419.8,1117.8 423.5,1117.0 427.3,1116.2 431.0,1115.4 434.8,1114.7 438.5,1113.9 442.2,1113.1 446.0,1112.4 449.7,1111.7 453.4,1111.0 457.2,1110.3 460.9,1109.6 464.7,1108.9 468.4,1108.3 472.1,1107.6 475.9,1107.0 479.6,1106.4 483.4,1105.8 487.1,1105.2 490.8,1104.6 494.6,1104.0 498.3,1103.4 502.0,1102.8 505.8,1102.3 509.5,1101.7 513.3,1101.2 517.0,1100.7 520.7,1100.1 524.5,1099.6 528.2,1099.1 531.9,1098.6 535.7,1098.1 539.4,1097.6 543.2,1097.1 546.9,1096.7 550.6,1096.2 554.4,1095.7 558.1,1095.3 561.9,1094.8 565.6,1094.4 569.3,1094.0 573.1,1093.5 576.8,1093.1 580.5,1092.7 584.3,1092.3 588.0,1091.9 591.8,1091.5 595.5,1091.1 599.2,1090.7 603.0,1090.3 606.7,1090.0 610.5,1089.6 614.2,1089.2 617.9,1088.8 621.7,1088.5 625.4,1088.1 629.1,1087.8 632.9,1087.4 636.6,1087.1 640.4,1086.8 644.1,1086.4 647.8,1086.1 651.6,1085.8 655.3,1085.4 659.0,1085.1 662.8,1084.8 666.5,1084.5 670.3,1084.2 674.0,1083.9 677.7,1083.6 681.5,1083.3 685.2,1083.0 689.0,1082.7 692.7,1082.4 696.4,1082.1 700.2,1081.9 703.9,1081.6 707.6,1081.3 711.4,1081.0 715.1,1080.8 718.9,1080.5 722.6,1080.3 726.3,1080.0 730.1,1079.7 733.8,1079.5 737.5,1079.2 741.3,1079.0 745.0,1078.7 748.8,1078.5 752.5,1078.3 756.2,1078.0 760.0,1077.8 763.7,1077.5 767.5,1077.3 771.2,1077.1 774.9,1076.9 778.7,1076.6 782.4,1076.4 786.1,1076.2 789.9,1076.0 793.6,1075.8 797.4,1075.5 801.1,1075.3 804.8,1075.1 808.6,1074.9 812.3,1074.7 816.1,1074.5 819.8,1074.3 823.5,1074.1 827.3,1073.9 831.0,1073.7 834.7,1073.5 838.5,1073.3 842.2,1073.1 846.0,1073.0 849.7,1072.8 853.4,1072.6 855.9,1072.5" fill="none" stroke="#0a14e6" stroke-width="3" stroke-linejoin="round"/>
<polyline points="108.3,1469.1 108.5,1468.1 108.6,1468.0 108.6,1468.0 108.6,1467.9 108.6,1467.8 108.6,1467.7 108.7,1467.5 108.7,1467.4 108.7,1467.3 108.8,1467.1 108.8,1467.0 108.8,1466.8 108.9,1466.6 108.9,1466.4 109.0,1466.2 109.0,1466.0 109.1,1465.7 109.2,1465.5 109.2,1465.2 109.3,1464.9 109.4,1464.5 109.5,1464.2 109.6,1463.8 109.7,1463.4 109.8,1462.9 109.9,1462.5 110.0,1461.9 110.2,1461.4 110.3,1460.8 110.5,1460.1 110.7,1459.4 110.8,1458.7 111.0,1457.9 111.3,1457.0 111.5,1456.1 111.8,1455.1 112.0,1454.0 112.3,1452.8 112.7,1451.6 113.0,1450.3 113.4,1448.8 113.8,1447.3 114.2,1445.7 114.7,1444.0 115.2,1442.1 115.8,1440.1 116.4,1438.0 117.0,1435.8 117.7,1433.4 118.4,1430.8 119.3,1428.1 120.1,1425.2 121.1,1422.2 122.1,1419.0 123.2,1415.6 124.4,1412.0 125.7,1408.2 127.1,1404.2 128.6,1400.1 130.2,1395.7 132.0,1391.1 135.7,1381.9 139.4,1373.2 143.2,1365.1 146.9,1357.5 150.6,1350.3 154.4,1343.5 158.1,1337.2 161.9,1331.2 165.6,1325.5 169.3,1320.1 173.1,1314.9 176.8,1310.0 180.6,1305.4 184.3,1301.0 188.0,1296.8 191.8,1292.7 195.5,1288.9 199.2,1285.2 203.0,1281.6 206.7,1278.2 210.5,1275.0 214.2,1271.9 217.9,1268.9 221.7,1266.0 225.4,1263.2 229.2,1260.5 232.9,1257.9 236.6,1255.4 240.4,1253.0 244.1,1250.7 247.8,1248.5 251.6,1246.3 255.3,1244.2 259.1,1242.2 262.8,1240.2 266.5,1238.3 270.3,1236.4 274.0,1234.6 277.7,1232.9 281.5,1231.2 285.2,1229.6 289.0,1228.0 292.7,1226.4 296.4,1224.9 300.2,1223.4 303.9,1222.0 307.7,1220.6 311.4,1219.3 315.1,1218.0 318.9,1216.7 322.6,1215.4 326.3,1214.2 330.1,1213.0 333.8,1211.8 337.6,1210.7 341.3,1209.6 345.0,1208.5 348.8,1207.5 352.5,1206.4 356.3,1205.4 360.0,1204.4 363.7,1203.5 367.5,1202.5 371.2,1201.6 374.9,1200.7 378.7,1199.8 382.4,1198.9 386.2,1198.1 389.9,1197.3 393.6,1196.4 397.4,1195.6 401.1,1194.9 404.8,1194.1 408.6,1193.3 412.3,1192.6 416.1,1191.9 419.8,1191.2 423.5,1190.5 427.3,1189.8 431.0,1189.1 434.8,1188.5 438.5,1187.8 442.2,1187.2 446.0,1186.6 449.7,1185.9 453.4,1185.3 457.2,1184.8 460.9,1184.2 464.7,1183.6 468.4,1183.0 472.1,1182.5 475.9,1181.9 479.6,1181.4 483.4,1180.9 487.1,1180.4 490.8,1179.9 494.6,1179.4 498.3,1178.9 502.0,1178.4 505.8,1177.9 509.5,1177.4 513.3,1177.0 517.0,1176.5 520.7,1176.1 524.5,1175.6 528.2,1175.2 531.9,1174.8 535.7,1174.3 539.4,1173.9 543.2,1173.5 546.9,1173.1 550.6,1172.7 554.4,1172.3 558.1,1171.9 561.9,1171.5 565.6,1171.2 569.3,1170.8 573.1,1170.4 576.8,1170.1 580.5,1169.7 584.3,1169.3 588.0,1169.0 591.8,1168.7 595.5,1168.3 599.2,1168.0 603.0,1167.6 606.7,1167.3 610.5,1167.0 614.2,1166.7 617.9,1166.4 621.7,1166.1 625.4,1165.8 629.1,1165.5 632.9,1165.2 636.6,1164.9 640.4,1164.6 644.1,1164.3 647.8,1164.0 651.6,1163.7 655.3,1163.4 659.0,1163.2 662.8,1162.9 666.5,1162.6 670.3,1162.4 674.0,1162.1 677.7,1161.8 681.5,1161.6 685.2,1161.3 689.0,1161.1 692.7,1160.8 696.4,1160.6 700.2,1160.3 703.9,1160.1 707.6,1159.9 711.4,1159.6 715.1,1159.4 718.9,1159.2 722.6,1159.0 726.3,1158.7 730.1,1158.5 733.8,1158.3 737.5,1158.1 741.3,1157.9 745.0,1157.6 748.8,1157.4 752.5,1157.2 756.2,1157.0 760.0,1156.8 763.7,1156.6 767.5,1156.4 771.2,1156.2 774.9,1156.0 778.7,1155.8 782.4,1155.6 786.1,1155.4 789.9,1155.3 793.6,1155.1 797.4,1154.9 801.1,1154.7 804.8,1154.5 808.6,1154.3 812.3,1154.2 816.1,1154.0 819.8,1153.8 823.5,1153.6 827.3,1153.5 831.0,1153.3 834.7,1153.1 838.5,1153.0 842.2,1152.8 846.0,1152.6 849.7,1152.5 853.4,1152.3 855.9,1152.2" fill="none" stroke="#dc0000" stroke-width="3" stroke-linejoin="round"/>
<polyline points="108.3,1469.1 108.5,1468.4 108.6,1468.4 108.6,1468.3 108.6,1468.3 108.6,1468.2 108.6,1468.1 108.7,1468.0 108.7,1467.9 108.7,1467.9 108.8,1467.8 108.8,1467.6 108.8,1467.5 108.9,1467.4 108.9,1467.3 109.0,1467.1 109.0,1467.0 109.1,1466.8 109.2,1466.6 109.2,1466.4 109.3,1466.2 109.4,1466.0 109.5,1465.7 109.6,1465.5 109.7,1465.2 109.8,1464.9 109.9,1464.5 110.0,1464.2 110.2,1463.8 110.3,1463.4 110.5,1462.9 110.7,1462.4 110.8,1461.9 111.0,1461.3 111.3,1460.7 111.5,1460.1 111.8,1459.4 112.0,1458.6 112.3,1457.8 112.7,1456.9 113.0,1456.0 113.4,1455.0 113.8,1453.9 114.2,1452.7 114.7,1451.5 115.2,1450.1 115.8,1448.7 116.4,1447.1 117.0,1445.5 117.7,1443.7 118.4,1441.9 119.3,1439.8 120.1,1437.7 121.1,1435.4 122.1,1433.0 123.2,1430.4 124.4,1427.6 125.7,1424.7 127.1,1421.6 128.6,1418.3 130.2,1414.8 132.0,1411.1 135.7,1403.6 139.4,1396.4 143.2,1389.5 146.9,1382.9 150.6,1376.6 154.4,1370.5 158.1,1364.8 161.9,1359.2 165.6,1353.9 169.3,1348.8 173.1,1343.8 176.8,1339.1 180.6,1334.5 184.3,1330.1 188.0,1325.9 191.8,1321.8 195.5,1317.8 199.2,1314.0 203.0,1310.3 206.7,1306.7 210.5,1303.3 214.2,1299.9 217.9,1296.7 221.7,1293.6 225.4,1290.5 229.2,1287.5 232.9,1284.7 236.6,1281.9 240.4,1279.2 244.1,1276.5 247.8,1274.0 251.6,1271.5 255.3,1269.1 259.1,1266.7 262.8,1264.4 266.5,1262.2 270.3,1260.0 274.0,1257.9 277.7,1255.8 281.5,1253.8 285.2,1251.8 289.0,1249.9 292.7,1248.0 296.4,1246.1 300.2,1244.4 303.9,1242.6 307.7,1240.9 311.4,1239.2 315.1,1237.6 318.9,1236.0 322.6,1234.4 326.3,1232.9 330.1,1231.4 333.8,1229.9 337.6,1228.5 341.3,1227.1 345.0,1225.7 348.8,1224.3 352.5,1223.0 356.3,1221.7 360.0,1220.4 363.7,1219.2 367.5,1218.0 371.2,1216.8 374.9,1215.6 378.7,1214.4 382.4,1213.3 386.2,1212.2 389.9,1211.1 393.6,1210.0 397.4,1209.0 401.1,1207.9 404.8,1206.9 408.6,1205.9 412.3,1204.9 416.1,1203.9 419.8,1203.0 423.5,1202.1 427.3,1201.1 431.0,1200.2 434.8,1199.3 438.5,1198.5 442.2,1197.6 446.0,1196.8 449.7,1195.9 453.4,1195.1 457.2,1194.3 460.9,1193.5 464.7,1192.7 468.4,1192.0 472.1,1191.2 475.9,1190.4 479.6,1189.7 483.4,1189.0 487.1,1188.3 490.8,1187.6 494.6,1186.9 498.3,1186.2 502.0,1185.5 505.8,1184.8 509.5,1184.2 513.3,1183.5 517.0,1182.9 520.7,1182.3 524.5,1181.7 528.2,1181.0 531.9,1180.4 535.7,1179.8 539.4,1179.3 543.2,1178.7 546.9,1178.1 550.6,1177.5 554.4,1177.0 558.1,1176.4 561.9,1175.9 565.6,1175.3 569.3,1174.8 573.1,1174.3 576.8,1173.8 580.5,1173.3 584.3,1172.8 588.0,1172.3 591.8,1171.8 595.5,1171.3 599.2,1170.8 603.0,1170.3 606.7,1169.9 610.5,1169.4 614.2,1168.9 617.9,1168.5 621.7,1168.0 625.4,1167.6 629.1,1167.2 632.9,1166.7 636.6,1166.3 640.4,1165.9 644.1,1165.5 647.8,1165.1 651.6,1164.7 655.3,1164.2 659.0,1163.8 662.8,1163.5 666.5,1163.1 670.3,1162.7 674.0,1162.3 677.7,1161.9 681.5,1161.5 685.2,1161.2 689.0,1160.8 692.7,1160.4 696.4,1160.1 700.2,1159.7 703.9,1159.4 707.6,1159.0 711.4,1158.7 715.1,1158.3 718.9,1158.0 722.6,1157.7 726.3,1157.3 730.1,1157.0 733.8,1156.7 737.5,1156.4 741.3,1156.1 745.0,1155.7 748.8,1155.4 752.5,1155.1 756.2,1154.8 760.0,1154.5 763.7,1154.2 767.5,1153.9 771.2,1153.6 774.9,1153.3 778.7,1153.0 782.4,1152.8 786.1,1152.5 789.9,1152.2 793.6,1151.9 797.4,1151.6 801.1,1151.4 804.8,1151.1 808.6,1150.8 812.3,1150.6 816.1,1150.3 819.8,1150.0 823.5,1149.8 827.3,1149.5 831.0,1149.3 834.7,1149.0 838.5,1148.8 842.2,1148.5 846.0,1148.3 849.7,1148.0 853.4,1147.8 855.9,1147.6" fill="none" stroke="#88f03c" stroke-width="3" stroke-linejoin="round"/>
<polyline points="855.9,1235.1 853.4,1235.3 849.7,1235.5 846.0,1235.7 842.2,1235.9 838.5,1236.1 834.7,1236.3 831.0,1236.6 827.3,1236.8 823.5,1237.0 819.8,1237.2 816.1,1237.4 812.3,1237.7 808.6,1237.9 804.8,1238.1 801.1,1238.4 797.4,1238.6 793.6,1238.8 789.9,1239.1 786.1,1239.3 782.4,1239.6 778.7,1239.8 774.9,1240.1 771.2,1240.3 767.5,1240.6 763.7,1240.8 760.0,1241.1 756.2,1241.3 752.5,1241.6 748.8,1241.9 745.0,1242.1 741.3,1242.4 737.5,1242.7 733.8,1243.0 730.1,1243.2 726.3,1243.5 722.6,1243.8 718.9,1244.1 715.1,1244.4 711.4,1244.7 707.6,1245.0 703.9,1245.3 700.2,1245.6 696.4,1245.9 692.7,1246.2 689.0,1246.5 685.2,1246.8 681.5,1247.1 677.7,1247.4 674.0,1247.8 670.3,1248.1 666.5,1248.4 662.8,1248.7 659.0,1249.1 655.3,1249.4 651.6,1249.8 647.8,1250.1 644.1,1250.5 640.4,1250.8 636.6,1251.2 632.9,1251.5 629.1,1251.9 625.4,1252.3 621.7,1252.7 617.9,1253.0 614.2,1253.4 610.5,1253.8 606.7,1254.2 603.0,1254.6 599.2,1255.0 595.5,1255.4 591.8,1255.8 588.0,1256.2 584.3,1256.6 580.5,1257.1 576.8,1257.5 573.1,1257.9 569.3,1258.4 565.6,1258.8 561.9,1259.3 558.1,1259.7 554.4,1260.2 550.6,1260.6 546.9,1261.1 543.2,1261.6 539.4,1262.1 535.7,1262.6 531.9,1263.1 528.2,1263.6 524.5,1264.1 520.7,1264.6 517.0,1265.1 513.3,1265.7 509.5,1266.2 505.8,1266.7 502.0,1267.3 498.3,1267.9 494.6,1268.4 490.8,1269.0 487.1,1269.6 483.4,1270.2 479.6,1270.8 475.9,1271.4 472.1,1272.0 468.4,1272.6 464.7,1273.3 460.9,1273.9 457.2,1274.6 453.4,1275.2 449.7,1275.9 446.0,1276.6 442.2,1277.3 438.5,1278.0 434.8,1278.7 431.0,1279.4 427.3,1280.2 423.5,1280.9 419.8,1281.7 416.1,1282.4 412.3,1283.2 408.6,1284.0 404.8,1284.8 401.1,1285.7 397.4,1286.5 393.6,1287.4 389.9,1288.2 386.2,1289.1 382.4,1290.0 378.7,1290.9 374.9,1291.8 371.2,1292.8 367.5,1293.8 363.7,1294.7 360.0,1295.7 356.3,1296.7 352.5,1297.8 348.8,1298.8 345.0,1299.9 341.3,1301.0 337.6,1302.1 333.8,1303.2 330.1,1304.4 326.3,1305.6 322.6,1306.8 318.9,1308.0 315.1,1309.3 311.4,1310.5 307.7,1311.8 303.9,1313.2 300.2,1314.5 296.4,1315.9 292.7,1317.3 289.0,1318.8 285.2,1320.3 281.5,1321.8 277.7,1323.3 274.0,1324.9 270.3,1326.6 266.5,1328.2 262.8,1329.9 259.1,1331.7 255.3,1333.4 251.6,1335.3 247.8,1337.1 244.1,1339.1 240.4,1341.0 236.6,1343.0 232.9,1345.1 229.2,1347.2 225.4,1349.4 221.7,1351.7 217.9,1354.0 214.2,1356.3 210.5,1358.8 206.7,1361.3 203.0,1363.9 199.2,1366.5 195.5,1369.3 191.8,1372.1 188.0,1375.0 184.3,1378.0 180.6,1381.1 176.8,1384.3 173.1,1387.6 169.3,1391.0 165.6,1394.5 161.9,1398.2 158.1,1401.9 154.4,1405.9 150.6,1409.9 146.9,1414.1 143.2,1418.5 139.4,1423.1 135.7,1427.8 132.0,1432.7 130.2,1435.1 128.6,1437.3 127.1,1439.4 125.7,1441.4 124.4,1443.3 123.2,1445.0 122.1,1446.7 121.1,1448.2 120.1,1449.6 119.3,1451.0 118.4,1452.3 117.7,1453.4 117.0,1454.5 116.4,1455.6 115.8,1456.5 115.2,1457.4 114.7,1458.2 114.2,1459.0 113.8,1459.7 113.4,1460.4 113.0,1461.0 112.7,1461.6 112.3,1462.2 112.0,1462.7 111.8,1463.1 111.5,1463.6 111.3,1464.0 111.0,1464.3 110.8,1464.7 110.7,1465.0 110.5,1465.3 110.3,1465.6 110.2,1465.8 110.0,1466.1 109.9,1466.3 109.8,1466.5 109.7,1466.7 109.6,1466.9 109.5,1467.0 109.4,1467.2 109.3,1467.3 109.2,1467.5 109.2,1467.6 109.1,1467.7 109.0,1467.8 109.0,1467.9 108.9,1468.0 108.9,1468.1 108.8,1468.1 108.8,1468.2 108.8,1468.3 108.7,1468.3 108.7,1468.4 108.7,1468.4 108.6,1468.5 108.6,1468.5 108.6,1468.6 108.6,1468.6 108.6,1468.7 108.5,1468.7 108.3,1469.1" fill="none" stroke="#dc0000" stroke-width="3" stroke-dasharray="15 14.7" stroke-linejoin="round"/>
<polyline points="855.9,1237.7 853.4,1237.8 849.7,1238.0 846.0,1238.3 842.2,1238.5 838.5,1238.7 834.7,1238.9 831.0,1239.1 827.3,1239.3 823.5,1239.5 819.8,1239.8 816.1,1240.0 812.3,1240.2 808.6,1240.4 804.8,1240.7 801.1,1240.9 797.4,1241.1 793.6,1241.4 789.9,1241.6 786.1,1241.9 782.4,1242.1 778.7,1242.3 774.9,1242.6 771.2,1242.8 767.5,1243.1 763.7,1243.3 760.0,1243.6 756.2,1243.8 752.5,1244.1 748.8,1244.4 745.0,1244.6 741.3,1244.9 737.5,1245.2 733.8,1245.4 730.1,1245.7 726.3,1246.0 722.6,1246.3 718.9,1246.6 715.1,1246.8 711.4,1247.1 707.6,1247.4 703.9,1247.7 700.2,1248.0 696.4,1248.3 692.7,1248.6 689.0,1248.9 685.2,1249.2 681.5,1249.6 677.7,1249.9 674.0,1250.2 670.3,1250.5 666.5,1250.8 662.8,1251.2 659.0,1251.5 655.3,1251.8 651.6,1252.2 647.8,1252.5 644.1,1252.9 640.4,1253.2 636.6,1253.6 632.9,1253.9 629.1,1254.3 625.4,1254.7 621.7,1255.0 617.9,1255.4 614.2,1255.8 610.5,1256.2 606.7,1256.6 603.0,1256.9 599.2,1257.3 595.5,1257.7 591.8,1258.1 588.0,1258.6 584.3,1259.0 580.5,1259.4 576.8,1259.8 573.1,1260.2 569.3,1260.7 565.6,1261.1 561.9,1261.6 558.1,1262.0 554.4,1262.5 550.6,1262.9 546.9,1263.4 543.2,1263.9 539.4,1264.4 535.7,1264.8 531.9,1265.3 528.2,1265.8 524.5,1266.3 520.7,1266.9 517.0,1267.4 513.3,1267.9 509.5,1268.4 505.8,1269.0 502.0,1269.5 498.3,1270.1 494.6,1270.6 490.8,1271.2 487.1,1271.8 483.4,1272.4 479.6,1273.0 475.9,1273.6 472.1,1274.2 468.4,1274.8 464.7,1275.4 460.9,1276.1 457.2,1276.7 453.4,1277.4 449.7,1278.0 446.0,1278.7 442.2,1279.4 438.5,1280.1 434.8,1280.8 431.0,1281.5 427.3,1282.2 423.5,1283.0 419.8,1283.7 416.1,1284.5 412.3,1285.3 408.6,1286.1 404.8,1286.9 401.1,1287.7 397.4,1288.5 393.6,1289.4 389.9,1290.2 386.2,1291.1 382.4,1292.0 378.7,1292.9 374.9,1293.8 371.2,1294.7 367.5,1295.7 363.7,1296.6 360.0,1297.6 356.3,1298.6 352.5,1299.7 348.8,1300.7 345.0,1301.8 341.3,1302.8 337.6,1303.9 333.8,1305.1 330.1,1306.2 326.3,1307.4 322.6,1308.6 318.9,1309.8 315.1,1311.0 311.4,1312.3 307.7,1313.6 303.9,1314.9 300.2,1316.2 296.4,1317.6 292.7,1319.0 289.0,1320.4 285.2,1321.9 281.5,1323.4 277.7,1324.9 274.0,1326.5 270.3,1328.1 266.5,1329.8 262.8,1331.4 259.1,1333.2 255.3,1334.9 251.6,1336.7 247.8,1338.6 244.1,1340.5 240.4,1342.4 236.6,1344.4 232.9,1346.5 229.2,1348.6 225.4,1350.7 221.7,1353.0 217.9,1355.2 214.2,1357.6 210.5,1360.0 206.7,1362.5 203.0,1365.0 199.2,1367.6 195.5,1370.4 191.8,1373.1 188.0,1376.0 184.3,1379.0 180.6,1382.0 176.8,1385.2 173.1,1388.5 169.3,1391.8 165.6,1395.3 161.9,1398.9 158.1,1402.7 154.4,1406.6 150.6,1410.6 146.9,1414.7 143.2,1419.1 139.4,1423.6 135.7,1428.2 132.0,1433.1 130.2,1435.5 128.6,1437.7 127.1,1439.7 125.7,1441.7 124.4,1443.6 123.2,1445.3 122.1,1446.9 121.1,1448.4 120.1,1449.9 119.3,1451.2 118.4,1452.4 117.7,1453.6 117.0,1454.7 116.4,1455.7 115.8,1456.7 115.2,1457.5 114.7,1458.4 114.2,1459.1 113.8,1459.8 113.4,1460.5 113.0,1461.1 112.7,1461.7 112.3,1462.2 112.0,1462.7 111.8,1463.2 111.5,1463.6 111.3,1464.0 111.0,1464.4 110.8,1464.7 110.7,1465.1 110.5,1465.4 110.3,1465.6 110.2,1465.9 110.0,1466.1 109.9,1466.3 109.8,1466.5 109.7,1466.7 109.6,1466.9 109.5,1467.1 109.4,1467.2 109.3,1467.4 109.2,1467.5 109.2,1467.6 109.1,1467.7 109.0,1467.8 109.0,1467.9 108.9,1468.0 108.9,1468.1 108.8,1468.2 108.8,1468.2 108.8,1468.3 108.7,1468.3 108.7,1468.4 108.7,1468.5 108.6,1468.5 108.6,1468.5 108.6,1468.6 108.6,1468.6 108.6,1468.7 108.5,1468.7 108.3,1469.1" fill="none" stroke="#88f03c" stroke-width="3" stroke-dasharray="15 14.7" stroke-linejoin="round"/>
<polyline points="855.9,1270.0 853.4,1270.1 849.7,1270.2 846.0,1270.3 842.2,1270.4 838.5,1270.5 834.7,1270.6 831.0,1270.8 827.3,1270.9 823.5,1271.0 819.8,1271.1 816.1,1271.2 812.3,1271.4 808.6,1271.5 804.8,1271.6 801.1,1271.7 797.4,1271.9 793.6,1272.0 789.9,1272.1 786.1,1272.2 782.4,1272.4 778.7,1272.5 774.9,1272.6 771.2,1272.8 767.5,1272.9 763.7,1273.1 760.0,1273.2 756.2,1273.3 752.5,1273.5 748.8,1273.6 745.0,1273.8 741.3,1273.9 737.5,1274.1 733.8,1274.2 730.1,1274.4 726.3,1274.5 722.6,1274.7 718.9,1274.8 715.1,1275.0 711.4,1275.2 707.6,1275.3 703.9,1275.5 700.2,1275.7 696.4,1275.8 692.7,1276.0 689.0,1276.2 685.2,1276.3 681.5,1276.5 677.7,1276.7 674.0,1276.9 670.3,1277.0 666.5,1277.2 662.8,1277.4 659.0,1277.6 655.3,1277.8 651.6,1278.0 647.8,1278.2 644.1,1278.4 640.4,1278.6 636.6,1278.8 632.9,1279.0 629.1,1279.2 625.4,1279.4 621.7,1279.6 617.9,1279.8 614.2,1280.0 610.5,1280.3 606.7,1280.5 603.0,1280.7 599.2,1280.9 595.5,1281.2 591.8,1281.4 588.0,1281.6 584.3,1281.9 580.5,1282.1 576.8,1282.4 573.1,1282.6 569.3,1282.9 565.6,1283.1 561.9,1283.4 558.1,1283.6 554.4,1283.9 550.6,1284.2 546.9,1284.5 543.2,1284.7 539.4,1285.0 535.7,1285.3 531.9,1285.6 528.2,1285.9 524.5,1286.2 520.7,1286.5 517.0,1286.8 513.3,1287.1 509.5,1287.4 505.8,1287.7 502.0,1288.1 498.3,1288.4 494.6,1288.7 490.8,1289.1 487.1,1289.4 483.4,1289.8 479.6,1290.1 475.9,1290.5 472.1,1290.9 468.4,1291.3 464.7,1291.6 460.9,1292.0 457.2,1292.4 453.4,1292.8 449.7,1293.2 446.0,1293.7 442.2,1294.1 438.5,1294.5 434.8,1295.0 431.0,1295.4 427.3,1295.9 423.5,1296.3 419.8,1296.8 416.1,1297.3 412.3,1297.8 408.6,1298.3 404.8,1298.8 401.1,1299.3 397.4,1299.8 393.6,1300.4 389.9,1300.9 386.2,1301.5 382.4,1302.1 378.7,1302.6 374.9,1303.2 371.2,1303.8 367.5,1304.5 363.7,1305.1 360.0,1305.8 356.3,1306.4 352.5,1307.1 348.8,1307.8 345.0,1308.5 341.3,1309.2 337.6,1310.0 333.8,1310.7 330.1,1311.5 326.3,1312.3 322.6,1313.1 318.9,1314.0 315.1,1314.8 311.4,1315.7 307.7,1316.6 303.9,1317.5 300.2,1318.5 296.4,1319.4 292.7,1320.4 289.0,1321.5 285.2,1322.5 281.5,1323.6 277.7,1324.7 274.0,1325.9 270.3,1327.1 266.5,1328.3 262.8,1329.5 259.1,1330.8 255.3,1332.2 251.6,1333.5 247.8,1334.9 244.1,1336.4 240.4,1337.9 236.6,1339.5 232.9,1341.1 229.2,1342.8 225.4,1344.5 221.7,1346.3 217.9,1348.2 214.2,1350.1 210.5,1352.1 206.7,1354.2 203.0,1356.4 199.2,1358.6 195.5,1361.0 191.8,1363.4 188.0,1366.0 184.3,1368.6 180.6,1371.4 176.8,1374.3 173.1,1377.4 169.3,1380.6 165.6,1384.0 161.9,1387.5 158.1,1391.2 154.4,1395.1 150.6,1399.3 146.9,1403.6 143.2,1408.2 139.4,1413.1 135.7,1418.3 132.0,1423.9 130.2,1426.6 128.6,1429.2 127.1,1431.6 125.7,1434.0 124.4,1436.2 123.2,1438.3 122.1,1440.3 121.1,1442.2 120.1,1443.9 119.3,1445.6 118.4,1447.2 117.7,1448.6 117.0,1450.0 116.4,1451.3 115.8,1452.5 115.2,1453.7 114.7,1454.8 114.2,1455.8 113.8,1456.7 113.4,1457.6 113.0,1458.4 112.7,1459.1 112.3,1459.8 112.0,1460.5 111.8,1461.1 111.5,1461.7 111.3,1462.2 111.0,1462.7 110.8,1463.2 110.7,1463.6 110.5,1464.0 110.3,1464.4 110.2,1464.7 110.0,1465.0 109.9,1465.3 109.8,1465.6 109.7,1465.9 109.6,1466.1 109.5,1466.3 109.4,1466.5 109.3,1466.7 109.2,1466.9 109.2,1467.0 109.1,1467.2 109.0,1467.3 109.0,1467.5 108.9,1467.6 108.9,1467.7 108.8,1467.8 108.8,1467.9 108.8,1468.0 108.7,1468.1 108.7,1468.1 108.7,1468.2 108.6,1468.3 108.6,1468.3 108.6,1468.4 108.6,1468.4 108.6,1468.5 108.5,1468.5 108.3,1469.1" fill="none" stroke="#0a14e6" stroke-width="3" stroke-dasharray="15 14.7" stroke-linejoin="round"/>
<polygon points="114.1,1376.9 127.1,1389.9 114.1,1402.9 101.1,1389.9" fill="#0a14e6"/>
<polygon points="120.0,1351.9 133.0,1364.9 120.0,1377.9 107.0,1364.9" fill="#0a14e6"/>
<polygon points="131.7,1335.2 144.7,1348.2 131.7,1361.2 118.7,1348.2" fill="#0a14e6"/>
<polygon points="155.0,1289.4 168.0,1302.4 155.0,1315.4 142.0,1302.4" fill="#0a14e6"/>
<polygon points="201.8,1243.6 214.8,1256.6 201.8,1269.6 188.8,1256.6" fill="#0a14e6"/>
<polygon points="295.2,1189.4 308.2,1202.4 295.2,1215.4 282.2,1202.4" fill="#0a14e6"/>
<polygon points="482.1,1123.3 495.1,1136.3 482.1,1149.3 469.1,1136.3" fill="#0a14e6"/>
<polygon points="855.9,1001.9 868.9,1014.9 855.9,1027.9 842.9,1014.9" fill="#0a14e6"/>
<rect x="126.4" y="1369.0" width="18" height="18" fill="#dc0000"/>
<rect x="146.0" y="1335.9" width="18" height="18" fill="#dc0000"/>
<rect x="192.8" y="1291.3" width="18" height="18" fill="#dc0000"/>
<rect x="286.2" y="1243.4" width="18" height="18" fill="#dc0000"/>
<rect x="473.1" y="1187.8" width="18" height="18" fill="#dc0000"/>
<rect x="846.9" y="1103.8" width="18" height="18" fill="#dc0000"/>
<circle cx="114.8" cy="1411.6" r="10.3" fill="#88f03c"/>
<circle cx="135.4" cy="1397.2" r="10.3" fill="#88f03c"/>
<circle cx="155.0" cy="1362.8" r="10.3" fill="#88f03c"/>
<circle cx="201.8" cy="1317.0" r="10.3" fill="#88f03c"/>
<circle cx="295.2" cy="1264.9" r="10.3" fill="#88f03c"/>
<circle cx="482.1" cy="1205.3" r="10.3" fill="#88f03c"/>
<circle cx="855.9" cy="1128.4" r="10.3" fill="#88f03c"/>
<rect x="146.0" y="1387.2" width="18" height="18" fill="#dc0000"/>
<rect x="150.5" y="1391.7" width="9" height="9" fill="#fff"/>
<rect x="153.0" y="1394.7" width="4" height="3" fill="#dc0000"/>
<rect x="192.8" y="1351.7" width="18" height="18" fill="#dc0000"/>
<rect x="197.3" y="1356.2" width="9" height="9" fill="#fff"/>
<rect x="199.8" y="1359.2" width="4" height="3" fill="#dc0000"/>
<rect x="286.2" y="1316.3" width="18" height="18" fill="#dc0000"/>
<rect x="290.7" y="1320.8" width="9" height="9" fill="#fff"/>
<rect x="293.2" y="1323.8" width="4" height="3" fill="#dc0000"/>
<rect x="473.1" y="1269.2" width="18" height="18" fill="#dc0000"/>
<rect x="477.6" y="1273.7" width="9" height="9" fill="#fff"/>
<rect x="480.1" y="1276.7" width="4" height="3" fill="#dc0000"/>
<rect x="846.9" y="1205.9" width="18" height="18" fill="#dc0000"/>
<rect x="851.4" y="1210.4" width="9" height="9" fill="#fff"/>
<rect x="853.9" y="1213.4" width="4" height="3" fill="#dc0000"/>
<polygon points="131.7,1401.9 144.7,1414.9 131.7,1427.9 118.7,1414.9" fill="#0a14e6"/>
<polygon points="131.7,1407.9 138.7,1414.9 131.7,1421.9 124.7,1414.9" fill="#fff"/>
<rect x="129.2" y="1413.4" width="5" height="3" fill="#0a14e6"/>
<polygon points="155.0,1381.1 168.0,1394.1 155.0,1407.1 142.0,1394.1" fill="#0a14e6"/>
<polygon points="155.0,1387.1 162.0,1394.1 155.0,1401.1 148.0,1394.1" fill="#fff"/>
<rect x="152.5" y="1392.6" width="5" height="3" fill="#0a14e6"/>
<polygon points="201.8,1351.9 214.8,1364.9 201.8,1377.9 188.8,1364.9" fill="#0a14e6"/>
<polygon points="201.8,1357.9 208.8,1364.9 201.8,1371.9 194.8,1364.9" fill="#fff"/>
<rect x="199.3" y="1363.4" width="5" height="3" fill="#0a14e6"/>
<polygon points="295.2,1318.6 308.2,1331.6 295.2,1344.6 282.2,1331.6" fill="#0a14e6"/>
<polygon points="295.2,1324.6 302.2,1331.6 295.2,1338.6 288.2,1331.6" fill="#fff"/>
<rect x="292.7" y="1330.1" width="5" height="3" fill="#0a14e6"/>
<polygon points="482.1,1278.2 495.1,1291.2 482.1,1304.2 469.1,1291.2" fill="#0a14e6"/>
<polygon points="482.1,1284.2 489.1,1291.2 482.1,1298.2 475.1,1291.2" fill="#fff"/>
<rect x="479.6" y="1289.7" width="5" height="3" fill="#0a14e6"/>
<polygon points="855.9,1245.6 868.9,1258.6 855.9,1271.6 842.9,1258.6" fill="#0a14e6"/>
<polygon points="855.9,1251.6 862.9,1258.6 855.9,1265.6 848.9,1258.6" fill="#fff"/>
<rect x="853.4" y="1257.1" width="5" height="3" fill="#0a14e6"/>
<circle cx="114.1" cy="1463.3" r="10.3" fill="#88f03c"/>
<circle cx="114.1" cy="1463.3" r="3.6" fill="none" stroke="#fff" stroke-width="2"/>
<circle cx="121.4" cy="1446.6" r="10.3" fill="#88f03c"/>
<circle cx="121.4" cy="1446.6" r="3.6" fill="none" stroke="#fff" stroke-width="2"/>
<circle cx="134.0" cy="1427.4" r="10.3" fill="#88f03c"/>
<circle cx="134.0" cy="1427.4" r="3.6" fill="none" stroke="#fff" stroke-width="2"/>
<circle cx="155.0" cy="1405.1" r="10.3" fill="#88f03c"/>
<circle cx="155.0" cy="1405.1" r="3.6" fill="none" stroke="#fff" stroke-width="2"/>
<circle cx="201.8" cy="1369.5" r="10.3" fill="#88f03c"/>
<circle cx="201.8" cy="1369.5" r="3.6" fill="none" stroke="#fff" stroke-width="2"/>
<circle cx="295.2" cy="1328.2" r="10.3" fill="#88f03c"/>
<circle cx="295.2" cy="1328.2" r="3.6" fill="none" stroke="#fff" stroke-width="2"/>
<circle cx="482.1" cy="1283.7" r="10.3" fill="#88f03c"/>
<circle cx="482.1" cy="1283.7" r="3.6" fill="none" stroke="#fff" stroke-width="2"/>
<circle cx="855.9" cy="1223.2" r="10.3" fill="#88f03c"/>
<circle cx="855.9" cy="1223.2" r="3.6" fill="none" stroke="#fff" stroke-width="2"/>
</g>
<line x1="108.3" y1="842.2" x2="108.3" y2="1470.8" stroke="#000" stroke-width="2.9"/>
<line x1="949.4" y1="842.2" x2="949.4" y2="1470.8" stroke="#000" stroke-width="4"/>
<line x1="108.3" y1="844.0" x2="949.4" y2="844.0" stroke="#000" stroke-width="3.5"/>
<line x1="108.3" y1="1469.1" x2="949.4" y2="1469.1" stroke="#000" stroke-width="3.5"/>
<line x1="155.0" y1="1469.1" x2="155.0" y2="1462.1" stroke="#000" stroke-width="2.4"/>
<line x1="201.8" y1="1469.1" x2="201.8" y2="1456.1" stroke="#000" stroke-width="2.4"/>
<line x1="248.5" y1="1469.1" x2="248.5" y2="1462.1" stroke="#000" stroke-width="2.4"/>
<line x1="295.2" y1="1469.1" x2="295.2" y2="1456.1" stroke="#000" stroke-width="2.4"/>
<line x1="341.9" y1="1469.1" x2="341.9" y2="1462.1" stroke="#000" stroke-width="2.4"/>
<line x1="388.7" y1="1469.1" x2="388.7" y2="1456.1" stroke="#000" stroke-width="2.4"/>
<line x1="435.4" y1="1469.1" x2="435.4" y2="1462.1" stroke="#000" stroke-width="2.4"/>
<line x1="482.1" y1="1469.1" x2="482.1" y2="1456.1" stroke="#000" stroke-width="2.4"/>
<line x1="528.9" y1="1469.1" x2="528.9" y2="1462.1" stroke="#000" stroke-width="2.4"/>
<line x1="575.6" y1="1469.1" x2="575.6" y2="1456.1" stroke="#000" stroke-width="2.4"/>
<line x1="622.3" y1="1469.1" x2="622.3" y2="1462.1" stroke="#000" stroke-width="2.4"/>
<line x1="669.0" y1="1469.1" x2="669.0" y2="1456.1" stroke="#000" stroke-width="2.4"/>
<line x1="715.8" y1="1469.1" x2="715.8" y2="1462.1" stroke="#000" stroke-width="2.4"/>
<line x1="762.5" y1="1469.1" x2="762.5" y2="1456.1" stroke="#000" stroke-width="2.4"/>
<line x1="809.2" y1="1469.1" x2="809.2" y2="1462.1" stroke="#000" stroke-width="2.4"/>
<line x1="855.9" y1="1469.1" x2="855.9" y2="1456.1" stroke="#000" stroke-width="2.4"/>
<line x1="902.7" y1="1469.1" x2="902.7" y2="1462.1" stroke="#000" stroke-width="2.4"/>
<line x1="108.3" y1="1364.9" x2="115.3" y2="1364.9" stroke="#000" stroke-width="2.4"/>
<line x1="108.3" y1="1260.7" x2="121.3" y2="1260.7" stroke="#000" stroke-width="2.4"/>
<line x1="108.3" y1="1156.5" x2="115.3" y2="1156.5" stroke="#000" stroke-width="2.4"/>
<line x1="108.3" y1="1052.4" x2="121.3" y2="1052.4" stroke="#000" stroke-width="2.4"/>
<line x1="108.3" y1="948.2" x2="115.3" y2="948.2" stroke="#000" stroke-width="2.4"/>
<rect x="143.9" y="885.2" width="17.5" height="17.5" fill="#dc0000"/>
<rect x="148.2" y="889.5" width="9" height="9" fill="#fff"/>
<rect x="150.7" y="892.5" width="4" height="3" fill="#dc0000"/>
<text x="189.0" y="900.3" font-family="Liberation Serif, serif" font-size="29" xml:space="preserve"><tspan font-style="italic">Ψ</tspan><tspan dx="-4">=</tspan>146.23MPa,</text>
<text x="387.8" y="900.3" font-family="Liberation Serif, serif" font-size="29" xml:space="preserve"><tspan font-style="italic">Ψ</tspan>π=0.74MPa</text>
<rect x="143.9" y="924.0" width="17.5" height="17.5" fill="#dc0000"/>
<text x="189.0" y="939.0" font-family="Liberation Serif, serif" font-size="29" xml:space="preserve"><tspan font-style="italic">Ψ</tspan><tspan dx="-4">=</tspan>20.06  MPa,</text>
<text x="387.8" y="939.0" font-family="Liberation Serif, serif" font-size="29" xml:space="preserve"><tspan font-style="italic">Ψ</tspan>π=0.74MPa</text>
<polygon points="152.7,959.5 165.2,972.0 152.7,984.5 140.2,972.0" fill="#0a14e6"/>
<text x="189.0" y="978.3" font-family="Liberation Serif, serif" font-size="29" xml:space="preserve"><tspan font-style="italic">Ψ</tspan><tspan dx="-4">=</tspan>14.01  MPa,</text>
<text x="387.8" y="978.3" font-family="Liberation Serif, serif" font-size="29" xml:space="preserve"><tspan font-style="italic">Ψ</tspan>π=1.39MPa</text>
<polygon points="152.7,999.0 165.2,1011.5 152.7,1024.0 140.2,1011.5" fill="#0a14e6"/>
<polygon points="152.7,1004.5 159.7,1011.5 152.7,1018.5 145.7,1011.5" fill="#fff"/>
<rect x="150.2" y="1010.0" width="5" height="3" fill="#0a14e6"/>
<text x="189.0" y="1017.8" font-family="Liberation Serif, serif" font-size="29" xml:space="preserve"><tspan font-style="italic">Ψ</tspan><tspan dx="-4">=</tspan>45.55  MPa,</text>
<text x="387.8" y="1017.8" font-family="Liberation Serif, serif" font-size="29" xml:space="preserve"><tspan font-style="italic">Ψ</tspan>π=1.39MPa</text>
<circle cx="152.7" cy="1050.6" r="10.3" fill="#88f03c"/>
<text x="189.0" y="1056.9" font-family="Liberation Serif, serif" font-size="29" xml:space="preserve"><tspan font-style="italic">Ψ</tspan><tspan dx="-4">=</tspan>11.09  MPa,</text>
<text x="387.8" y="1056.9" font-family="Liberation Serif, serif" font-size="29" xml:space="preserve"><tspan font-style="italic">Ψ</tspan>π=0MPa</text>
<circle cx="152.7" cy="1089.7" r="10.3" fill="#88f03c"/>
<circle cx="152.7" cy="1089.7" r="3.6" fill="none" stroke="#fff" stroke-width="2"/>
<text x="189.0" y="1096.0" font-family="Liberation Serif, serif" font-size="29" xml:space="preserve"><tspan font-style="italic">Ψ</tspan><tspan dx="-4">=</tspan>110.70MPa,</text>
<text x="387.8" y="1096.0" font-family="Liberation Serif, serif" font-size="29" xml:space="preserve"><tspan font-style="italic">Ψ</tspan>π=0MPa</text>
<line x1="127.6" y1="1124.5" x2="182.7" y2="1124.5" stroke="#000" stroke-width="2.5"/>
<text x="199.3" y="1131.3" font-family="Liberation Serif, serif" font-size="29">Fitting line</text>
<text x="527" y="1557" font-family="Liberation Serif, serif" font-size="42" text-anchor="middle"><tspan font-style="italic">p</tspan> (kPa)</text>
<text transform="translate(34,1184.5) rotate(-90)" font-family="Liberation Serif, serif" font-size="41" font-weight="bold" text-anchor="middle"><tspan font-style="italic">ε</tspan> (%)</text>
</svg></body></html>
